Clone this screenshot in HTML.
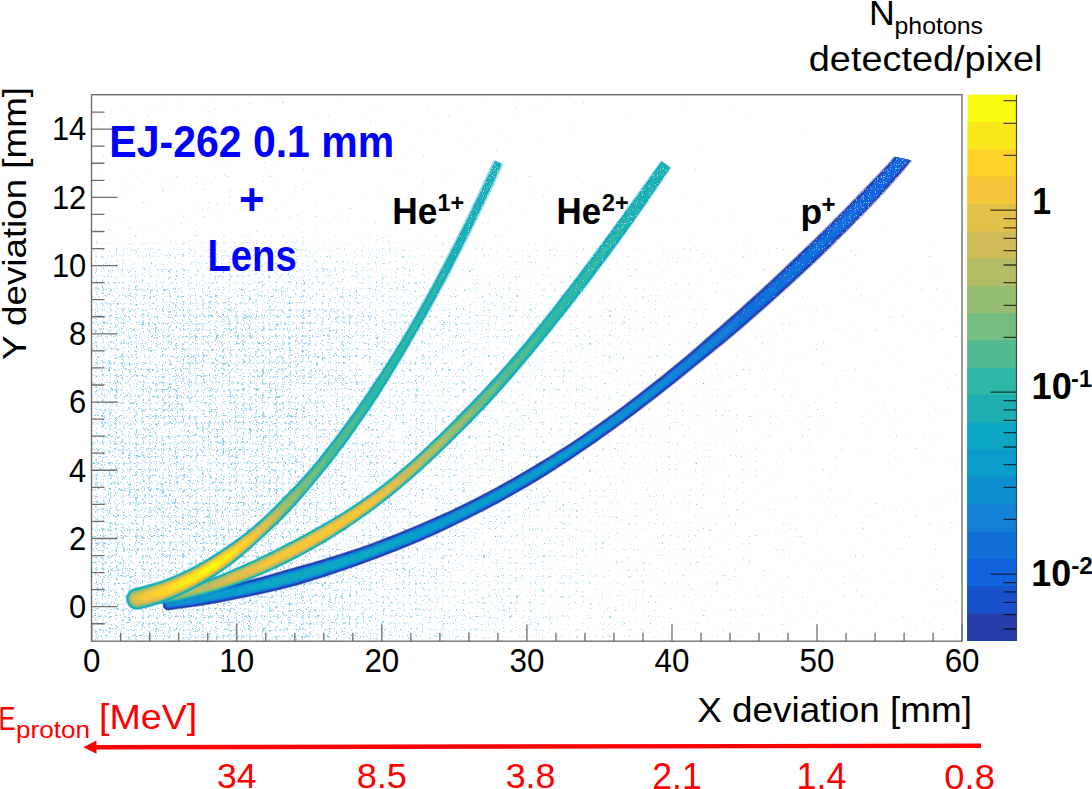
<!DOCTYPE html>
<html><head><meta charset="utf-8"><style>
html,body{margin:0;padding:0;background:#fff;overflow:hidden;}
svg{display:block;}
text{font-family:"Liberation Sans",sans-serif;}
</style></head><body>
<svg width="1092" height="789" viewBox="0 0 1092 789">
<defs>
<clipPath id="pcut"><path d="M0 -49 L1092 202 L1092 800 L0 800Z"/></clipPath>
<clipPath id="pc"><rect x="91.5" y="94.7" width="870.5" height="546.5"/></clipPath>
<linearGradient id="ng0" gradientUnits="userSpaceOnUse" x1="92" y1="0" x2="962" y2="0"><stop offset="0.0000" stop-opacity="0.104"/><stop offset="0.2161" stop-opacity="0.104"/><stop offset="0.2966" stop-opacity="0.099"/><stop offset="0.4115" stop-opacity="0.092"/><stop offset="0.5264" stop-opacity="0.084"/><stop offset="0.6414" stop-opacity="0.074"/><stop offset="0.7563" stop-opacity="0.058"/><stop offset="0.8713" stop-opacity="0.042"/><stop offset="1.0000" stop-opacity="0.032"/></linearGradient>
<linearGradient id="ng1" gradientUnits="userSpaceOnUse" x1="92" y1="0" x2="962" y2="0"><stop offset="0.0000" stop-opacity="0.112"/><stop offset="0.2161" stop-opacity="0.112"/><stop offset="0.2966" stop-opacity="0.107"/><stop offset="0.4115" stop-opacity="0.101"/><stop offset="0.5264" stop-opacity="0.094"/><stop offset="0.6414" stop-opacity="0.084"/><stop offset="0.7563" stop-opacity="0.069"/><stop offset="0.8713" stop-opacity="0.053"/><stop offset="1.0000" stop-opacity="0.043"/></linearGradient>
<linearGradient id="ng2" gradientUnits="userSpaceOnUse" x1="92" y1="0" x2="962" y2="0"><stop offset="0.0000" stop-opacity="0.135"/><stop offset="0.2161" stop-opacity="0.135"/><stop offset="0.2966" stop-opacity="0.127"/><stop offset="0.4115" stop-opacity="0.118"/><stop offset="0.5264" stop-opacity="0.109"/><stop offset="0.6414" stop-opacity="0.101"/><stop offset="0.7563" stop-opacity="0.086"/><stop offset="0.8713" stop-opacity="0.071"/><stop offset="1.0000" stop-opacity="0.062"/></linearGradient>
<linearGradient id="ng3" gradientUnits="userSpaceOnUse" x1="92" y1="0" x2="962" y2="0"><stop offset="0.0000" stop-opacity="0.158"/><stop offset="0.2161" stop-opacity="0.158"/><stop offset="0.2966" stop-opacity="0.149"/><stop offset="0.4115" stop-opacity="0.137"/><stop offset="0.5264" stop-opacity="0.126"/><stop offset="0.6414" stop-opacity="0.113"/><stop offset="0.7563" stop-opacity="0.101"/><stop offset="0.8713" stop-opacity="0.086"/><stop offset="1.0000" stop-opacity="0.077"/></linearGradient>
<linearGradient id="ng4" gradientUnits="userSpaceOnUse" x1="92" y1="0" x2="962" y2="0"><stop offset="0.0000" stop-opacity="0.177"/><stop offset="0.2161" stop-opacity="0.177"/><stop offset="0.2966" stop-opacity="0.163"/><stop offset="0.4115" stop-opacity="0.149"/><stop offset="0.5264" stop-opacity="0.136"/><stop offset="0.6414" stop-opacity="0.123"/><stop offset="0.7563" stop-opacity="0.107"/><stop offset="0.8713" stop-opacity="0.094"/><stop offset="1.0000" stop-opacity="0.085"/></linearGradient>
<linearGradient id="ng5" gradientUnits="userSpaceOnUse" x1="92" y1="0" x2="962" y2="0"><stop offset="0.0000" stop-opacity="0.192"/><stop offset="0.2161" stop-opacity="0.192"/><stop offset="0.2966" stop-opacity="0.178"/><stop offset="0.4115" stop-opacity="0.159"/><stop offset="0.5264" stop-opacity="0.145"/><stop offset="0.6414" stop-opacity="0.130"/><stop offset="0.7563" stop-opacity="0.111"/><stop offset="0.8713" stop-opacity="0.099"/><stop offset="1.0000" stop-opacity="0.090"/></linearGradient>
<linearGradient id="ng6" gradientUnits="userSpaceOnUse" x1="92" y1="0" x2="962" y2="0"><stop offset="0.0000" stop-opacity="0.204"/><stop offset="0.2161" stop-opacity="0.204"/><stop offset="0.2966" stop-opacity="0.189"/><stop offset="0.4115" stop-opacity="0.170"/><stop offset="0.5264" stop-opacity="0.153"/><stop offset="0.6414" stop-opacity="0.137"/><stop offset="0.7563" stop-opacity="0.117"/><stop offset="0.8713" stop-opacity="0.103"/><stop offset="1.0000" stop-opacity="0.095"/></linearGradient>
<linearGradient id="ng7" gradientUnits="userSpaceOnUse" x1="92" y1="0" x2="962" y2="0"><stop offset="0.0000" stop-opacity="0.221"/><stop offset="0.2161" stop-opacity="0.221"/><stop offset="0.2966" stop-opacity="0.202"/><stop offset="0.4115" stop-opacity="0.182"/><stop offset="0.5264" stop-opacity="0.162"/><stop offset="0.6414" stop-opacity="0.144"/><stop offset="0.7563" stop-opacity="0.123"/><stop offset="0.8713" stop-opacity="0.107"/><stop offset="1.0000" stop-opacity="0.100"/></linearGradient>
<filter id="nz1" x="92" y="95" width="870" height="546" filterUnits="userSpaceOnUse" color-interpolation-filters="sRGB"><feTurbulence type="fractalNoise" baseFrequency="0.85" numOctaves="1" seed="4" result="t"/><feColorMatrix in="t" type="matrix" values="0 0 0 0 0  0 0 0 0 0  0 0 0 0 0  1 0 0 0 0" result="ta"/><feComposite in="SourceAlpha" in2="ta" operator="arithmetic" k1="0" k2="1" k3="1" k4="-0.000"/><feComponentTransfer><feFuncA type="linear" slope="12" intercept="-10.080"/></feComponentTransfer><feColorMatrix type="matrix" values="0 0 0 0 0.180  0 0 0 0 0.700  0 0 0 0 0.840  0 0 0 0.600 0"/><feGaussianBlur stdDeviation="0.3"/></filter>
<filter id="nz2" x="92" y="95" width="870" height="546" filterUnits="userSpaceOnUse" color-interpolation-filters="sRGB"><feTurbulence type="fractalNoise" baseFrequency="0.85" numOctaves="1" seed="11" result="t"/><feColorMatrix in="t" type="matrix" values="0 0 0 0 0  0 0 0 0 0  0 0 0 0 0  1 0 0 0 0" result="ta"/><feComposite in="SourceAlpha" in2="ta" operator="arithmetic" k1="0" k2="1" k3="1" k4="-0.030"/><feComponentTransfer><feFuncA type="linear" slope="12" intercept="-10.080"/></feComponentTransfer><feColorMatrix type="matrix" values="0 0 0 0 0.420  0 0 0 0 0.420  0 0 0 0 0.820  0 0 0 0.450 0"/><feGaussianBlur stdDeviation="0.3"/></filter>
<filter id="nz3" x="92" y="95" width="870" height="546" filterUnits="userSpaceOnUse" color-interpolation-filters="sRGB"><feTurbulence type="fractalNoise" baseFrequency="0.85" numOctaves="1" seed="23" result="t"/><feColorMatrix in="t" type="matrix" values="0 0 0 0 0  0 0 0 0 0  0 0 0 0 0  1 0 0 0 0" result="ta"/><feComposite in="SourceAlpha" in2="ta" operator="arithmetic" k1="0" k2="1" k3="1" k4="-0.070"/><feComponentTransfer><feFuncA type="linear" slope="12" intercept="-10.080"/></feComponentTransfer><feConvolveMatrix order="2" kernelMatrix="1 1 1 1" divisor="1" edgeMode="none"/><feColorMatrix type="matrix" values="0 0 0 0 0.200  0 0 0 0 0.700  0 0 0 0 0.840  0 0 0 0.450 0"/><feGaussianBlur stdDeviation="0.3"/></filter>
<clipPath id="bclip"><path d="M168.9,610.4 178.9,609.1 188.9,607.8 198.9,606.4 208.8,604.7 218.8,602.9 228.7,601.0 238.6,599.1 248.5,597.0 258.3,594.9 268.2,592.7 278.0,590.5 287.9,588.1 297.6,585.4 307.3,582.6 317.0,579.6 326.6,576.5 336.2,573.3 345.8,570.1 355.3,566.7 364.9,563.3 374.3,559.8 383.8,556.2 393.3,552.6 402.7,548.9 412.0,545.1 421.3,541.2 430.6,537.1 439.8,532.9 448.9,528.6 458.0,524.1 467.1,519.7 476.1,515.1 485.1,510.5 494.1,505.8 503.0,501.0 511.8,496.1 520.6,491.1 529.3,486.0 538.0,480.8 546.6,475.6 555.2,470.1 563.6,464.6 572.1,459.1 580.4,453.4 588.7,447.7 597.0,442.0 605.3,436.1 613.5,430.3 621.6,424.3 629.7,418.3 637.8,412.3 645.8,406.2 653.8,400.1 661.8,393.9 669.7,387.6 677.5,381.4 685.4,375.0 693.2,368.7 701.0,362.4 708.9,356.1 716.7,349.8 724.5,343.4 732.2,337.0 739.9,330.4 747.5,323.9 755.1,317.3 762.7,310.7 770.3,304.0 777.8,297.3 785.2,290.5 792.7,283.8 800.1,277.0 807.5,270.1 814.8,263.1 822.0,256.2 829.3,249.2 836.5,242.1 843.6,235.0 850.7,227.9 857.8,220.7 864.9,213.6 871.9,206.3 878.8,199.0 885.7,191.6 892.5,184.1 899.2,176.4 905.8,168.7 912.2,160.8 918.6,152.9 905.4,142.3 899.2,150.1 892.8,157.5 886.2,164.9 879.5,172.1 872.6,179.3 865.7,186.5 858.7,193.6 851.8,200.8 844.8,207.9 837.8,215.0 830.8,222.1 823.7,229.2 816.6,236.2 809.4,243.1 802.2,250.0 795.0,256.9 787.8,263.8 780.5,270.7 773.3,277.5 766.0,284.3 758.6,291.1 751.2,297.8 743.8,304.5 736.4,311.2 728.9,317.8 721.4,324.4 713.9,331.0 706.4,337.6 698.9,344.2 691.4,350.8 683.8,357.3 676.1,363.7 668.4,370.0 660.6,376.2 652.8,382.5 644.9,388.6 637.1,394.8 629.1,400.8 621.2,406.9 613.2,412.8 605.1,418.7 597.0,424.5 588.9,430.2 580.6,435.8 572.4,441.4 564.0,446.8 555.6,452.1 547.1,457.4 538.6,462.5 530.1,467.7 521.5,472.7 512.9,477.7 504.3,482.6 495.5,487.3 486.8,492.0 477.9,496.6 469.1,501.1 460.2,505.5 451.2,509.8 442.1,513.9 433.1,518.0 423.9,521.9 414.8,525.8 405.6,529.6 396.4,533.4 387.2,537.1 377.9,540.6 368.6,544.1 359.2,547.4 349.8,550.6 340.3,553.6 330.8,556.6 321.3,559.5 311.8,562.3 302.2,565.0 292.6,567.6 283.1,570.3 273.5,573.1 263.9,575.9 254.3,578.5 244.7,581.1 235.1,583.5 225.4,586.0 215.7,588.3 206.0,590.6 196.3,592.8 186.5,595.2 176.8,597.5 167.1,599.7 165.7,600.2 164.5,600.9 163.6,602.0 162.9,603.2 162.6,604.6 162.7,606.0 163.1,607.3 163.9,608.5 164.9,609.5 166.2,610.1 167.5,610.4Z"/><path d="M155.9,604.8 163.6,603.8 171.4,602.6 179.2,601.2 187.0,599.5 194.7,597.7 202.3,595.8 209.9,593.7 217.5,591.5 225.0,589.2 232.5,586.7 240.0,584.1 247.3,581.2 254.6,578.2 261.8,575.1 269.0,571.9 276.1,568.6 283.2,565.3 290.2,561.8 297.2,558.3 304.1,554.6 311.0,550.8 317.8,546.9 324.6,543.0 331.3,538.9 338.0,534.7 344.6,530.5 351.1,526.1 357.6,521.7 364.0,517.2 370.4,512.6 376.7,507.9 383.0,503.1 389.2,498.3 395.3,493.4 401.3,488.3 407.3,483.2 413.2,478.1 419.1,472.9 424.9,467.7 430.6,462.4 436.3,457.0 442.0,451.7 447.6,446.2 453.1,440.8 458.7,435.3 464.2,429.8 469.7,424.3 475.1,418.8 480.6,413.1 485.9,407.5 491.2,401.8 496.5,396.0 501.7,390.2 506.9,384.4 512.0,378.5 517.1,372.6 522.1,366.7 527.1,360.7 532.1,354.7 537.1,348.7 542.0,342.7 547.0,336.7 551.9,330.7 556.7,324.6 561.6,318.5 566.4,312.4 571.2,306.3 576.0,300.2 580.7,294.1 585.5,287.9 590.2,281.7 594.9,275.5 599.6,269.3 604.2,263.1 608.9,256.9 613.5,250.7 618.1,244.4 622.7,238.1 627.2,231.9 631.7,225.5 636.2,219.2 640.6,212.8 645.1,206.5 649.5,200.1 653.9,193.7 658.3,187.3 662.7,180.9 667.0,174.5 671.4,168.0 660.6,160.6 656.2,167.0 651.7,173.3 647.2,179.6 642.7,185.9 638.2,192.1 633.7,198.4 629.2,204.7 624.7,210.9 620.1,217.2 615.5,223.4 611.0,229.7 606.5,235.9 601.9,242.2 597.3,248.4 592.7,254.6 588.1,260.8 583.5,267.0 578.9,273.2 574.2,279.3 569.5,285.5 564.8,291.6 560.1,297.7 555.4,303.8 550.6,309.9 545.8,315.9 541.0,322.0 536.2,328.0 531.4,334.0 526.5,340.0 521.5,345.9 516.6,351.8 511.5,357.6 506.5,363.4 501.4,369.2 496.3,374.9 491.1,380.6 485.9,386.3 480.7,391.9 475.4,397.5 470.0,403.0 464.7,408.6 459.3,414.0 453.9,419.5 448.4,424.9 442.9,430.3 437.4,435.7 431.8,441.1 426.2,446.4 420.6,451.6 415.0,456.8 409.3,461.9 403.5,467.0 397.7,472.0 391.8,476.9 385.9,481.6 379.8,486.3 373.7,490.8 367.5,495.3 361.3,499.7 355.0,504.0 348.6,508.2 342.1,512.3 335.6,516.2 329.1,520.1 322.4,524.0 315.8,527.7 309.1,531.4 302.4,535.1 295.7,538.7 288.9,542.2 282.1,545.7 275.3,549.3 268.4,552.7 261.6,556.1 254.7,559.4 247.7,562.5 240.8,565.6 233.8,568.7 226.8,571.7 219.8,574.6 212.7,577.4 205.6,580.1 198.4,582.6 191.1,584.8 183.8,586.9 176.5,588.8 169.1,590.6 161.7,592.1 154.1,593.4 152.7,593.8 151.4,594.6 150.4,595.7 149.7,597.0 149.3,598.5 149.3,599.9 149.8,601.4 150.5,602.7 151.6,603.7 152.9,604.4 154.4,604.8Z"/><path d="M139.6,609.8 146.2,608.3 152.8,606.4 159.4,604.3 165.9,601.9 172.3,599.4 178.6,596.7 184.8,593.8 191.0,590.7 197.0,587.5 202.9,584.2 208.7,580.7 214.5,577.1 220.1,573.3 225.7,569.5 231.1,565.5 236.4,561.3 241.7,557.0 246.8,552.7 251.9,548.3 256.8,543.9 261.8,539.3 266.6,534.8 271.5,530.2 276.4,525.6 281.1,520.9 285.8,516.2 290.4,511.5 295.0,506.6 299.4,501.7 303.8,496.6 308.0,491.6 312.3,486.5 316.5,481.3 320.7,476.3 324.9,471.1 329.1,466.0 333.2,460.8 337.3,455.6 341.2,450.3 345.2,445.0 349.1,439.7 353.0,434.3 356.8,428.9 360.6,423.5 364.4,418.1 368.1,412.7 371.8,407.2 375.5,401.7 379.1,396.2 382.6,390.7 386.2,385.1 389.6,379.5 393.1,373.9 396.5,368.2 399.9,362.6 403.3,356.9 406.7,351.3 410.0,345.6 413.3,339.9 416.6,334.2 419.9,328.5 423.2,322.8 426.5,317.1 429.7,311.4 432.9,305.6 436.1,299.8 439.2,294.1 442.4,288.3 445.5,282.5 448.6,276.7 451.6,270.8 454.6,265.0 457.6,259.2 460.6,253.3 463.6,247.4 466.5,241.5 469.5,235.7 472.4,229.8 475.3,223.9 478.2,218.0 481.1,212.1 484.0,206.2 486.8,200.2 489.7,194.3 492.5,188.4 495.3,182.4 498.0,176.4 500.7,170.4 503.4,164.4 493.6,160.0 490.8,165.9 488.0,171.8 485.2,177.7 482.4,183.6 479.6,189.6 476.9,195.5 474.0,201.4 471.2,207.3 468.4,213.2 465.5,219.1 462.6,224.9 459.7,230.8 456.8,236.6 453.8,242.5 450.8,248.3 447.8,254.1 444.8,259.9 441.8,265.7 438.7,271.5 435.6,277.2 432.6,283.0 429.5,288.8 426.3,294.5 423.2,300.2 420.0,306.0 416.8,311.7 413.6,317.3 410.4,323.0 407.1,328.7 403.8,334.3 400.4,339.9 397.1,345.5 393.7,351.1 390.2,356.6 386.7,362.1 383.2,367.6 379.6,373.1 376.0,378.6 372.4,384.0 368.8,389.4 365.2,394.8 361.5,400.2 357.8,405.6 354.1,411.0 350.3,416.3 346.5,421.6 342.7,426.8 338.8,432.0 334.8,437.2 330.9,442.4 326.9,447.5 322.8,452.6 318.8,457.7 314.7,462.7 310.5,467.7 306.3,472.7 302.0,477.5 297.6,482.3 293.1,487.0 288.6,491.6 284.0,496.2 279.5,500.9 275.0,505.5 270.4,510.0 265.7,514.5 261.0,518.9 256.2,523.2 251.3,527.3 246.3,531.4 241.2,535.3 236.0,539.2 230.8,542.9 225.6,546.5 220.2,550.0 214.9,553.5 209.5,556.9 204.1,560.2 198.6,563.3 193.0,566.3 187.4,569.2 181.7,571.9 176.0,574.5 170.2,576.9 164.4,579.1 158.5,581.2 152.6,583.0 146.6,584.7 140.6,586.4 134.4,587.8 131.6,588.9 129.3,590.6 127.4,592.9 126.2,595.6 125.7,598.5 126.0,601.4 127.0,604.2 128.8,606.6 131.1,608.4 133.7,609.6 136.7,610.1Z"/></clipPath><linearGradient id="sg" gradientUnits="userSpaceOnUse" x1="0" y1="150" x2="0" y2="420"><stop offset="0" stop-opacity="0.271"/><stop offset="0.2" stop-opacity="0.232"/><stop offset="0.55" stop-opacity="0.162"/><stop offset="1" stop-opacity="0"/></linearGradient><filter id="spk" x="92" y="95" width="870" height="546" filterUnits="userSpaceOnUse" color-interpolation-filters="sRGB"><feTurbulence type="fractalNoise" baseFrequency="0.85" numOctaves="1" seed="31" result="t"/><feColorMatrix in="t" type="matrix" values="0 0 0 0 0  0 0 0 0 0  0 0 0 0 0  1 0 0 0 0" result="ta"/><feComposite in="SourceAlpha" in2="ta" operator="arithmetic" k1="0" k2="1" k3="1" k4="0"/><feComponentTransfer><feFuncA type="linear" slope="12" intercept="-10.080"/></feComponentTransfer><feColorMatrix type="matrix" values="0 0 0 0 1  0 0 0 0 1  0 0 0 0 1  0 0 0 0.55 0"/></filter>
</defs>
<g clip-path="url(#pc)">
<g filter="url(#nz1)"><rect x="92" y="95" width="870" height="120" fill="url(#ng0)"/><rect x="92" y="215" width="870" height="17" fill="url(#ng1)"/><rect x="92" y="232" width="870" height="8" fill="url(#ng2)"/><rect x="92" y="240" width="870" height="8" fill="url(#ng3)"/><rect x="92" y="248" width="870" height="17" fill="url(#ng4)"/><rect x="92" y="265" width="870" height="20" fill="url(#ng5)"/><rect x="92" y="285" width="870" height="25" fill="url(#ng6)"/><rect x="92" y="310" width="870" height="331" fill="url(#ng7)"/></g>
<g filter="url(#nz2)"><rect x="92" y="95" width="870" height="120" fill="url(#ng0)"/><rect x="92" y="215" width="870" height="17" fill="url(#ng1)"/><rect x="92" y="232" width="870" height="8" fill="url(#ng2)"/><rect x="92" y="240" width="870" height="8" fill="url(#ng3)"/><rect x="92" y="248" width="870" height="17" fill="url(#ng4)"/><rect x="92" y="265" width="870" height="20" fill="url(#ng5)"/><rect x="92" y="285" width="870" height="25" fill="url(#ng6)"/><rect x="92" y="310" width="870" height="331" fill="url(#ng7)"/></g>
<g filter="url(#nz3)"><rect x="92" y="95" width="870" height="120" fill="url(#ng0)"/><rect x="92" y="215" width="870" height="17" fill="url(#ng1)"/><rect x="92" y="232" width="870" height="8" fill="url(#ng2)"/><rect x="92" y="240" width="870" height="8" fill="url(#ng3)"/><rect x="92" y="248" width="870" height="17" fill="url(#ng4)"/><rect x="92" y="265" width="870" height="20" fill="url(#ng5)"/><rect x="92" y="285" width="870" height="25" fill="url(#ng6)"/><rect x="92" y="310" width="870" height="331" fill="url(#ng7)"/></g>
</g>
<g clip-path="url(#pc)">
<g clip-path="url(#pcut)">
<g><path d="M168.9,610.4 178.9,609.1 188.9,607.8 198.9,606.4 208.8,604.7 218.8,602.9 228.7,601.0 238.6,599.1 248.5,597.0 258.3,594.9 268.2,592.7 278.0,590.5 287.9,588.1 297.6,585.4 307.3,582.6 317.0,579.6 326.6,576.5 336.2,573.3 345.8,570.1 355.3,566.7 364.9,563.3 374.3,559.8 383.8,556.2 393.3,552.6 402.7,548.9 412.0,545.1 421.3,541.2 430.6,537.1 439.8,532.9 448.9,528.6 458.0,524.1 467.1,519.7 476.1,515.1 485.1,510.5 494.1,505.8 503.0,501.0 511.8,496.1 520.6,491.1 529.3,486.0 538.0,480.8 546.6,475.6 555.2,470.1 563.6,464.6 572.1,459.1 580.4,453.4 588.7,447.7 597.0,442.0 605.3,436.1 613.5,430.3 621.6,424.3 629.7,418.3 637.8,412.3 645.8,406.2 653.8,400.1 661.8,393.9 669.7,387.6 677.5,381.4 685.4,375.0 693.2,368.7 701.0,362.4 708.9,356.1 716.7,349.8 724.5,343.4 732.2,337.0 739.9,330.4 747.5,323.9 755.1,317.3 762.7,310.7 770.3,304.0 777.8,297.3 785.2,290.5 792.7,283.8 800.1,277.0 807.5,270.1 814.8,263.1 822.0,256.2 829.3,249.2 836.5,242.1 843.6,235.0 850.7,227.9 857.8,220.7 864.9,213.6 871.9,206.3 878.8,199.0 885.7,191.6 892.5,184.1 899.2,176.4 905.8,168.7 912.2,160.8 918.6,152.9 905.4,142.3 899.2,150.1 892.8,157.5 886.2,164.9 879.5,172.1 872.6,179.3 865.7,186.5 858.7,193.6 851.8,200.8 844.8,207.9 837.8,215.0 830.8,222.1 823.7,229.2 816.6,236.2 809.4,243.1 802.2,250.0 795.0,256.9 787.8,263.8 780.5,270.7 773.3,277.5 766.0,284.3 758.6,291.1 751.2,297.8 743.8,304.5 736.4,311.2 728.9,317.8 721.4,324.4 713.9,331.0 706.4,337.6 698.9,344.2 691.4,350.8 683.8,357.3 676.1,363.7 668.4,370.0 660.6,376.2 652.8,382.5 644.9,388.6 637.1,394.8 629.1,400.8 621.2,406.9 613.2,412.8 605.1,418.7 597.0,424.5 588.9,430.2 580.6,435.8 572.4,441.4 564.0,446.8 555.6,452.1 547.1,457.4 538.6,462.5 530.1,467.7 521.5,472.7 512.9,477.7 504.3,482.6 495.5,487.3 486.8,492.0 477.9,496.6 469.1,501.1 460.2,505.5 451.2,509.8 442.1,513.9 433.1,518.0 423.9,521.9 414.8,525.8 405.6,529.6 396.4,533.4 387.2,537.1 377.9,540.6 368.6,544.1 359.2,547.4 349.8,550.6 340.3,553.6 330.8,556.6 321.3,559.5 311.8,562.3 302.2,565.0 292.6,567.6 283.1,570.3 273.5,573.1 263.9,575.9 254.3,578.5 244.7,581.1 235.1,583.5 225.4,586.0 215.7,588.3 206.0,590.6 196.3,592.8 186.5,595.2 176.8,597.5 167.1,599.7 165.7,600.2 164.5,600.9 163.6,602.0 162.9,603.2 162.6,604.6 162.7,606.0 163.1,607.3 163.9,608.5 164.9,609.5 166.2,610.1 167.5,610.4Z" fill="#273da8" opacity="0.4"/>
<path d="M168.9,609.9 178.8,608.6 188.8,607.3 198.8,605.8 208.7,604.2 218.7,602.4 228.6,600.5 238.5,598.5 248.3,596.5 258.2,594.4 268.1,592.2 277.9,589.9 287.7,587.5 297.5,584.9 307.2,582.0 316.8,579.0 326.5,576.0 336.0,572.8 345.6,569.5 355.2,566.2 364.7,562.7 374.1,559.2 383.6,555.7 393.0,552.1 402.4,548.3 411.8,544.5 421.1,540.6 430.3,536.5 439.5,532.3 448.7,528.0 457.8,523.6 466.8,519.1 475.9,514.6 484.8,509.9 493.8,505.2 502.6,500.4 511.5,495.5 520.3,490.5 529.0,485.4 537.7,480.3 546.3,475.0 554.8,469.6 563.3,464.1 571.7,458.5 580.0,452.8 588.4,447.1 596.6,441.4 604.9,435.6 613.1,429.7 621.2,423.7 629.3,417.7 637.4,411.7 645.4,405.6 653.3,399.4 661.3,393.2 669.2,387.0 677.0,380.7 684.8,374.4 692.6,368.0 700.5,361.7 708.3,355.4 716.1,349.1 723.9,342.7 731.6,336.2 739.3,329.7 746.9,323.2 754.5,316.6 762.0,309.9 769.6,303.2 777.1,296.5 784.5,289.8 792.0,283.0 799.4,276.2 806.7,269.3 814.0,262.4 821.3,255.4 828.5,248.4 835.7,241.3 842.8,234.2 850.0,227.1 857.0,220.0 864.1,212.8 871.1,205.5 878.0,198.2 884.8,190.8 891.6,183.3 898.3,175.6 904.9,167.9 911.3,160.0 917.7,152.1 906.3,143.1 900.1,150.8 893.7,158.3 887.1,165.7 880.3,172.9 873.5,180.1 866.5,187.3 859.6,194.4 852.6,201.6 845.6,208.7 838.6,215.8 831.5,222.9 824.5,229.9 817.3,236.9 810.2,243.9 803.0,250.8 795.7,257.7 788.5,264.6 781.3,271.5 774.0,278.3 766.7,285.1 759.3,291.9 751.9,298.6 744.5,305.3 737.1,311.9 729.6,318.6 722.1,325.2 714.5,331.7 707.0,338.3 699.5,344.9 692.0,351.5 684.4,358.0 676.6,364.3 668.9,370.6 661.1,376.9 653.3,383.1 645.4,389.3 637.5,395.4 629.6,401.5 621.6,407.5 613.6,413.4 605.5,419.3 597.4,425.1 589.3,430.8 581.0,436.4 572.8,442.0 564.4,447.4 556.0,452.7 547.5,457.9 539.0,463.1 530.5,468.2 521.9,473.3 513.3,478.3 504.6,483.1 495.9,487.9 487.1,492.6 478.2,497.2 469.4,501.7 460.4,506.1 451.5,510.4 442.4,514.5 433.3,518.5 424.2,522.5 415.0,526.4 405.9,530.2 396.6,534.0 387.4,537.6 378.1,541.2 368.8,544.7 359.4,547.9 350.0,551.1 340.5,554.2 331.0,557.2 321.5,560.1 312.0,562.9 302.4,565.6 292.8,568.2 283.2,570.9 273.7,573.7 264.1,576.4 254.5,579.0 244.8,581.6 235.2,584.1 225.5,586.5 215.8,588.8 206.1,591.1 196.4,593.3 186.6,595.7 176.9,598.0 167.1,600.2 165.9,600.6 164.8,601.3 164.0,602.3 163.4,603.4 163.1,604.6 163.2,605.9 163.6,607.1 164.3,608.2 165.2,609.1 166.3,609.7 167.6,609.9Z" fill="#273da8"/>
<path d="M168.6,608.2 178.5,606.9 188.5,605.6 198.5,604.2 208.4,602.5 218.3,600.7 228.2,598.8 238.1,596.9 248.0,594.9 257.8,592.7 267.7,590.6 277.5,588.3 287.3,585.9 297.0,583.3 306.7,580.4 316.3,577.4 325.9,574.3 335.5,571.2 345.1,567.9 354.6,564.6 364.1,561.1 373.5,557.6 383.0,554.1 392.4,550.5 401.8,546.8 411.1,543.0 420.4,539.0 429.7,535.0 438.8,530.7 448.0,526.4 457.0,522.0 466.1,517.6 475.1,513.0 484.1,508.4 493.0,503.7 501.8,498.9 510.7,494.0 519.4,489.0 528.1,484.0 536.8,478.8 545.4,473.5 553.9,468.1 562.3,462.6 570.7,457.1 579.1,451.4 587.4,445.7 595.7,440.0 603.9,434.2 612.1,428.3 620.2,422.4 628.3,416.4 636.3,410.3 644.3,404.2 652.3,398.1 660.2,391.9 668.1,385.7 675.9,379.4 683.8,373.1 691.5,366.7 699.4,360.4 707.2,354.1 715.0,347.8 722.8,341.4 730.5,335.0 738.1,328.4 745.8,321.9 753.4,315.3 760.9,308.6 768.4,302.0 775.9,295.3 783.4,288.5 790.8,281.8 798.2,274.9 805.6,268.1 812.9,261.1 820.1,254.2 827.3,247.2 834.5,240.1 841.6,233.0 848.8,225.9 855.8,218.8 862.9,211.6 869.9,204.3 876.8,197.1 883.6,189.6 890.4,182.1 897.0,174.5 903.6,166.8 910.0,158.9 916.3,151.1 907.7,144.1 901.4,151.9 895.0,159.4 888.3,166.8 881.6,174.1 874.7,181.3 867.7,188.4 860.8,195.6 853.8,202.8 846.8,209.9 839.8,217.0 832.7,224.1 825.7,231.1 818.5,238.1 811.4,245.1 804.1,252.0 796.9,258.9 789.7,265.8 782.4,272.7 775.1,279.5 767.8,286.4 760.4,293.1 753.1,299.9 745.6,306.6 738.2,313.2 730.7,319.9 723.2,326.4 715.6,333.0 708.1,339.6 700.6,346.2 693.0,352.8 685.4,359.3 677.7,365.6 669.9,372.0 662.2,378.2 654.3,384.4 646.5,390.6 638.6,396.7 630.6,402.8 622.6,408.8 614.6,414.8 606.5,420.6 598.4,426.4 590.2,432.2 582.0,437.8 573.7,443.4 565.3,448.8 556.9,454.1 548.4,459.4 539.9,464.6 531.3,469.7 522.7,474.8 514.1,479.7 505.4,484.6 496.7,489.4 487.9,494.1 479.0,498.7 470.1,503.2 461.2,507.6 452.2,511.9 443.1,516.0 434.0,520.1 424.9,524.0 415.7,527.9 406.5,531.8 397.3,535.5 388.0,539.2 378.7,542.8 369.4,546.3 360.0,549.5 350.5,552.7 341.0,555.8 331.5,558.8 322.0,561.7 312.4,564.5 302.9,567.2 293.2,569.8 283.7,572.5 274.1,575.3 264.5,578.0 254.9,580.7 245.2,583.2 235.6,585.7 225.9,588.1 216.2,590.5 206.4,592.7 196.7,595.0 187.0,597.4 177.2,599.7 167.4,601.9 166.6,602.2 165.9,602.6 165.4,603.2 165.0,604.0 164.8,604.8 164.9,605.6 165.1,606.4 165.6,607.1 166.2,607.7 166.9,608.1 167.7,608.2Z" fill="#1751cb"/>
<path d="M168.5,607.9 178.5,606.7 188.5,605.4 198.4,604.0 208.4,602.3 218.3,600.5 228.2,598.7 238.0,596.7 247.9,594.7 257.8,592.6 267.6,590.4 277.4,588.1 287.2,585.7 297.0,583.1 306.6,580.2 316.3,577.2 325.9,574.2 335.5,571.0 345.0,567.7 354.5,564.4 364.0,561.0 373.5,557.5 382.9,553.9 392.3,550.3 401.7,546.6 411.1,542.8 420.4,538.9 429.6,534.8 438.8,530.6 447.9,526.3 457.0,521.9 466.0,517.4 475.0,512.9 484.0,508.3 492.9,503.5 501.7,498.7 510.6,493.9 519.3,488.9 528.0,483.8 536.7,478.6 545.3,473.4 553.8,468.0 562.3,462.5 570.6,456.9 579.0,451.3 587.3,445.6 595.6,439.8 603.8,434.0 612.0,428.2 620.1,422.2 628.2,416.2 636.2,410.2 644.2,404.1 652.2,397.9 660.1,391.7 668.0,385.5 675.8,379.2 683.6,372.9 691.4,366.5 699.2,360.2 707.0,353.9 714.8,347.5 722.6,341.2 730.3,334.7 737.9,328.1 745.5,321.6 753.1,314.9 760.6,308.3 768.1,301.6 775.6,294.9 783.0,288.1 790.4,281.3 797.8,274.5 805.1,267.6 812.4,260.7 819.6,253.7 826.8,246.6 834.0,239.6 841.1,232.5 848.2,225.4 855.3,218.2 862.3,211.0 869.3,203.8 876.2,196.5 883.0,189.1 889.8,181.6 896.5,174.0 903.0,166.3 909.4,158.5 915.7,150.6 908.3,144.6 902.0,152.4 895.5,159.9 888.9,167.3 882.2,174.6 875.3,181.8 868.3,189.0 861.4,196.2 854.4,203.3 847.4,210.5 840.4,217.6 833.3,224.6 826.2,231.7 819.0,238.7 811.8,245.6 804.6,252.5 797.4,259.4 790.1,266.3 782.8,273.1 775.5,280.0 768.2,286.7 760.8,293.5 753.4,300.2 745.9,306.9 738.5,313.5 730.9,320.2 723.4,326.7 715.9,333.3 708.3,339.9 700.8,346.5 693.2,353.0 685.6,359.5 677.9,365.8 670.1,372.1 662.3,378.4 654.5,384.6 646.6,390.8 638.7,396.9 630.7,403.0 622.8,409.0 614.7,414.9 606.6,420.8 598.5,426.6 590.3,432.3 582.1,438.0 573.8,443.5 565.4,448.9 557.0,454.3 548.5,459.5 540.0,464.7 531.4,469.8 522.8,474.9 514.2,479.9 505.5,484.8 496.8,489.6 488.0,494.3 479.1,498.9 470.2,503.4 461.3,507.8 452.3,512.1 443.2,516.2 434.1,520.3 425.0,524.2 415.8,528.1 406.6,532.0 397.4,535.7 388.1,539.4 378.8,542.9 369.4,546.4 360.0,549.7 350.6,552.9 341.1,556.0 331.6,559.0 322.1,561.9 312.5,564.7 302.9,567.4 293.3,570.0 283.7,572.7 274.1,575.5 264.5,578.2 254.9,580.9 245.3,583.4 235.6,585.9 225.9,588.3 216.2,590.7 206.5,592.9 196.7,595.2 187.0,597.6 177.3,599.9 167.5,602.2 166.8,602.4 166.1,602.8 165.6,603.4 165.3,604.1 165.1,604.8 165.1,605.6 165.4,606.3 165.8,606.9 166.3,607.4 167.0,607.8 167.8,608.0Z" fill="#1063dc"/>
<path d="M168.5,607.6 178.4,606.3 188.4,605.0 198.4,603.6 208.3,601.9 218.2,600.1 228.1,598.3 238.0,596.3 247.8,594.3 257.7,592.2 267.5,590.0 277.3,587.7 287.1,585.3 296.9,582.7 306.5,579.8 316.2,576.8 325.8,573.8 335.4,570.6 344.9,567.4 354.4,564.0 363.9,560.6 373.3,557.1 382.8,553.6 392.2,549.9 401.6,546.2 410.9,542.4 420.2,538.5 429.4,534.4 438.6,530.2 447.7,525.9 456.8,521.5 465.8,517.0 474.8,512.5 483.8,507.9 492.7,503.2 501.5,498.4 510.4,493.5 519.1,488.5 527.8,483.4 536.5,478.3 545.1,473.0 553.6,467.6 562.0,462.1 570.4,456.6 578.8,450.9 587.1,445.3 595.3,439.5 603.6,433.7 611.7,427.8 619.8,421.9 627.9,415.9 635.9,409.8 643.9,403.7 651.8,397.5 659.7,391.3 667.6,385.1 675.4,378.7 683.2,372.4 691.0,366.0 698.8,359.7 706.5,353.3 714.3,346.9 722.0,340.5 729.6,333.9 737.2,327.3 744.7,320.7 752.2,314.0 759.7,307.3 767.1,300.5 774.5,293.7 781.9,286.9 789.2,280.0 796.4,273.0 803.6,266.0 810.7,258.9 817.7,251.6 824.6,244.4 831.7,237.3 838.7,230.1 845.7,222.9 852.5,215.5 859.3,208.1 865.3,200.0 872.3,192.7 879.2,185.5 886.0,178.1 892.7,170.7 899.3,163.1 905.7,155.4 912.0,147.6 912.0,147.6 905.7,155.4 899.3,163.1 892.7,170.7 886.0,178.1 879.2,185.5 872.3,192.7 865.3,200.0 857.4,206.2 850.1,213.1 842.9,220.1 835.7,227.1 828.5,234.0 821.2,240.9 813.8,247.6 806.3,254.3 798.9,261.0 791.5,267.8 784.1,274.5 776.6,281.2 769.2,287.9 761.8,294.6 754.3,301.2 746.7,307.8 739.2,314.4 731.6,320.9 724.1,327.5 716.5,334.0 708.9,340.5 701.3,347.0 693.7,353.5 686.0,360.0 678.3,366.3 670.5,372.6 662.6,378.8 654.8,385.0 646.9,391.2 639.0,397.3 631.0,403.3 623.0,409.3 615.0,415.3 606.9,421.1 598.7,426.9 590.6,432.6 582.3,438.3 574.0,443.8 565.6,449.3 557.2,454.6 548.7,459.9 540.2,465.1 531.6,470.2 523.0,475.3 514.4,480.3 505.7,485.1 497.0,489.9 488.2,494.6 479.3,499.3 470.4,503.8 461.5,508.2 452.5,512.5 443.4,516.6 434.3,520.7 425.1,524.6 415.9,528.5 406.7,532.3 397.5,536.1 388.2,539.8 378.9,543.3 369.6,546.8 360.2,550.1 350.7,553.3 341.2,556.3 331.7,559.3 322.2,562.2 312.6,565.1 303.0,567.8 293.4,570.4 283.8,573.1 274.2,575.9 264.6,578.6 255.0,581.2 245.4,583.8 235.7,586.3 226.0,588.7 216.3,591.1 206.5,593.3 196.8,595.6 187.1,598.0 177.3,600.3 167.5,602.5 166.9,602.7 166.3,603.1 165.9,603.6 165.6,604.2 165.4,604.8 165.5,605.5 165.7,606.1 166.0,606.7 166.5,607.2 167.1,607.5 167.8,607.6Z" fill="#1271d9"/>
<path d="M168.4,607.1 178.3,605.8 188.3,604.5 198.3,603.1 208.2,601.4 218.1,599.6 228.0,597.8 237.9,595.9 247.7,593.8 257.6,591.7 267.4,589.5 277.2,587.2 287.0,584.8 296.7,582.2 306.4,579.3 316.0,576.4 325.6,573.3 335.2,570.2 344.8,566.9 354.3,563.6 363.7,560.2 373.2,556.7 382.6,553.1 392.0,549.5 401.4,545.8 410.7,541.9 420.0,538.0 429.2,533.9 438.4,529.7 447.5,525.4 456.5,521.0 465.6,516.5 474.6,512.0 483.5,507.4 492.4,502.7 501.3,497.9 510.1,493.0 518.9,488.1 527.6,483.0 536.2,477.8 544.8,472.6 553.3,467.2 561.8,461.7 570.2,456.2 578.5,450.5 586.8,444.9 595.1,439.1 603.3,433.3 611.4,427.4 619.5,421.4 627.5,415.4 635.6,409.3 643.5,403.2 651.4,397.0 659.3,390.7 667.1,384.4 674.9,378.1 682.6,371.7 690.3,365.2 698.1,358.8 705.7,352.4 713.4,345.8 720.9,339.2 728.3,332.4 735.5,325.4 742.0,317.5 749.5,310.9 757.0,304.3 764.4,297.5 771.9,290.8 779.3,284.0 786.6,277.2 794.0,270.4 801.2,263.5 808.5,256.6 815.7,249.6 822.9,242.7 830.1,235.6 837.2,228.6 844.3,221.5 851.3,214.3 858.3,207.2 865.3,200.0 872.3,192.7 879.2,185.5 886.0,178.1 892.7,170.7 899.3,163.1 905.7,155.4 912.0,147.6 912.0,147.6 905.7,155.4 899.3,163.1 892.7,170.7 886.0,178.1 879.2,185.5 872.3,192.7 865.3,200.0 858.3,207.2 851.3,214.3 844.3,221.5 837.2,228.6 830.1,235.6 822.9,242.7 815.7,249.6 808.5,256.6 801.2,263.5 794.0,270.4 786.6,277.2 779.3,284.0 771.9,290.8 764.4,297.5 757.0,304.3 749.5,310.9 742.0,317.5 733.3,322.9 725.4,329.0 717.5,335.3 709.8,341.6 702.1,348.0 694.4,354.4 686.6,360.7 678.8,367.0 671.0,373.2 663.1,379.4 655.2,385.6 647.3,391.7 639.4,397.8 631.4,403.8 623.4,409.8 615.3,415.7 607.2,421.6 599.0,427.3 590.8,433.1 582.6,438.7 574.3,444.2 565.9,449.7 557.5,455.0 549.0,460.3 540.5,465.5 531.9,470.6 523.3,475.7 514.7,480.7 506.0,485.6 497.2,490.4 488.4,495.1 479.5,499.7 470.6,504.2 461.7,508.7 452.7,512.9 443.6,517.1 434.5,521.1 425.3,525.1 416.1,529.0 406.9,532.8 397.7,536.5 388.4,540.2 379.1,543.7 369.7,547.2 360.3,550.5 350.9,553.7 341.4,556.8 331.9,559.8 322.3,562.7 312.8,565.5 303.2,568.2 293.5,570.9 283.9,573.6 274.4,576.4 264.8,579.1 255.1,581.7 245.5,584.3 235.8,586.8 226.1,589.2 216.4,591.5 206.6,593.8 196.9,596.1 187.2,598.5 177.4,600.8 167.6,603.0 167.1,603.2 166.6,603.5 166.3,603.9 166.0,604.3 165.9,604.9 165.9,605.4 166.1,605.9 166.4,606.4 166.8,606.8 167.3,607.0 167.8,607.1Z" fill="#1480d6"/>
<path d="M168.2,606.2 178.2,605.0 188.1,603.7 198.1,602.3 208.0,600.7 217.9,599.0 227.8,597.2 237.7,595.3 247.6,593.3 257.4,591.2 267.2,589.0 277.1,586.7 286.8,584.3 296.6,581.6 306.2,578.8 315.9,575.8 325.5,572.8 335.0,569.7 344.6,566.4 354.1,563.1 363.6,559.7 373.0,556.2 382.4,552.6 391.8,549.0 401.2,545.2 410.5,541.3 419.7,537.4 428.9,533.3 438.1,529.1 447.2,524.8 456.2,520.4 465.3,515.9 474.3,511.4 483.2,506.8 492.1,502.1 501.0,497.3 509.8,492.5 518.5,487.5 527.2,482.4 535.9,477.3 544.4,472.0 553.0,466.6 561.4,461.2 569.8,455.6 578.1,450.0 586.4,444.3 594.7,438.5 602.8,432.7 610.9,426.8 619.0,420.8 627.0,414.7 635.0,408.5 642.9,402.3 650.7,396.0 658.4,389.6 666.0,383.0 672.9,375.7 680.7,369.4 688.5,363.0 696.2,356.6 703.9,350.2 711.6,343.7 719.2,337.2 726.8,330.7 734.4,324.1 742.0,317.5 749.5,310.9 757.0,304.3 764.4,297.5 771.9,290.8 779.3,284.0 786.6,277.2 794.0,270.4 801.2,263.5 808.5,256.6 815.7,249.6 822.9,242.7 830.1,235.6 837.2,228.6 844.3,221.5 851.3,214.3 858.3,207.2 865.3,200.0 872.3,192.7 879.2,185.5 886.0,178.1 892.7,170.7 899.3,163.1 905.7,155.4 912.0,147.6 912.0,147.6 905.7,155.4 899.3,163.1 892.7,170.7 886.0,178.1 879.2,185.5 872.3,192.7 865.3,200.0 858.3,207.2 851.3,214.3 844.3,221.5 837.2,228.6 830.1,235.6 822.9,242.7 815.7,249.6 808.5,256.6 801.2,263.5 794.0,270.4 786.6,277.2 779.3,284.0 771.9,290.8 764.4,297.5 757.0,304.3 749.5,310.9 742.0,317.5 734.4,324.1 726.8,330.7 719.2,337.2 711.6,343.7 703.9,350.2 696.2,356.6 688.5,363.0 680.7,369.4 672.9,375.7 664.3,380.8 656.1,386.7 648.1,392.7 640.0,398.7 632.0,404.6 623.9,410.5 615.8,416.4 607.7,422.2 599.5,427.9 591.2,433.6 583.0,439.2 574.6,444.8 566.3,450.2 557.8,455.6 549.4,460.9 540.8,466.1 532.3,471.2 523.6,476.3 515.0,481.3 506.3,486.2 497.5,491.0 488.7,495.7 479.9,500.3 471.0,504.8 462.0,509.3 453.0,513.6 443.9,517.7 434.8,521.8 425.6,525.7 416.4,529.6 407.2,533.4 397.9,537.1 388.6,540.7 379.3,544.3 369.9,547.7 360.5,551.0 351.0,554.2 341.5,557.3 332.0,560.3 322.5,563.2 312.9,566.0 303.3,568.8 293.7,571.4 284.1,574.2 274.5,576.9 264.9,579.6 255.3,582.3 245.6,584.8 235.9,587.3 226.2,589.8 216.5,592.2 206.8,594.5 197.0,596.9 187.3,599.3 177.6,601.6 167.8,603.9 167.5,604.0 167.3,604.2 167.1,604.4 166.9,604.7 166.8,605.0 166.9,605.3 167.0,605.5 167.1,605.8 167.3,606.0 167.6,606.1 167.9,606.2Z" fill="#0e8ed1"/>
<path d="M168.0,605.1 177.9,603.3 187.7,601.5 197.6,599.6 207.8,599.3 217.7,597.9 227.6,596.2 237.5,594.4 247.4,592.5 257.2,590.4 267.1,588.2 276.9,585.9 286.6,583.5 296.4,580.9 306.0,578.1 315.7,575.1 325.3,572.1 334.8,569.0 344.4,565.8 353.9,562.4 363.3,559.0 372.8,555.5 382.2,551.9 391.5,548.2 400.8,544.4 410.1,540.5 419.3,536.5 428.5,532.3 437.6,528.1 446.7,523.8 455.8,519.4 464.8,514.9 473.8,510.4 482.7,505.8 491.6,501.1 500.5,496.4 509.2,491.5 518.0,486.5 526.6,481.4 535.3,476.2 543.8,471.0 552.3,465.6 560.8,460.2 569.1,454.6 577.5,449.0 585.7,443.2 593.8,437.3 601.7,431.1 609.3,424.5 617.4,418.6 625.5,412.6 633.5,406.6 641.4,400.5 649.4,394.4 657.3,388.2 665.1,381.9 672.9,375.7 680.7,369.4 688.5,363.0 696.2,356.6 703.9,350.2 711.6,343.7 719.2,337.2 726.8,330.7 734.4,324.1 742.0,317.5 749.5,310.9 757.0,304.3 764.4,297.5 771.9,290.8 779.3,284.0 786.6,277.2 794.0,270.4 801.2,263.5 808.5,256.6 815.7,249.6 822.9,242.7 830.1,235.6 837.2,228.6 844.3,221.5 851.3,214.3 858.3,207.2 865.3,200.0 872.3,192.7 879.2,185.5 886.0,178.1 892.7,170.7 899.3,163.1 905.7,155.4 912.0,147.6 912.0,147.6 905.7,155.4 899.3,163.1 892.7,170.7 886.0,178.1 879.2,185.5 872.3,192.7 865.3,200.0 858.3,207.2 851.3,214.3 844.3,221.5 837.2,228.6 830.1,235.6 822.9,242.7 815.7,249.6 808.5,256.6 801.2,263.5 794.0,270.4 786.6,277.2 779.3,284.0 771.9,290.8 764.4,297.5 757.0,304.3 749.5,310.9 742.0,317.5 734.4,324.1 726.8,330.7 719.2,337.2 711.6,343.7 703.9,350.2 696.2,356.6 688.5,363.0 680.7,369.4 672.9,375.7 665.1,381.9 657.3,388.2 649.4,394.4 641.4,400.5 633.5,406.6 625.5,412.6 617.4,418.6 609.3,424.5 600.6,429.5 592.1,434.9 583.7,440.3 575.3,445.8 566.9,451.2 558.5,456.6 550.0,461.9 541.4,467.1 532.9,472.2 524.2,477.3 515.6,482.3 506.8,487.2 498.1,492.0 489.2,496.7 480.4,501.3 471.5,505.8 462.5,510.3 453.5,514.6 444.4,518.7 435.2,522.7 426.0,526.7 416.8,530.5 407.5,534.2 398.2,537.9 388.9,541.5 379.5,545.0 370.2,548.4 360.7,551.7 351.3,554.9 341.8,558.0 332.2,561.0 322.7,563.9 313.1,566.7 303.5,569.5 293.9,572.2 284.3,574.9 274.7,577.7 265.1,580.4 255.4,583.0 245.8,585.6 236.1,588.2 226.4,590.7 216.7,593.3 207.1,595.9 197.6,599.6 187.7,601.5 177.9,603.3 168.0,605.1Z" fill="#099dcc"/>
<path d="M168.0,605.1 177.9,603.3 187.7,601.5 197.6,599.6 207.4,597.6 217.2,595.6 227.0,593.5 236.8,591.3 247.0,591.0 256.9,589.1 266.7,587.0 276.5,584.7 286.3,582.4 296.0,579.8 305.7,577.0 315.3,574.1 324.9,571.1 334.5,567.9 344.0,564.7 353.5,561.4 362.9,557.9 372.4,554.4 381.7,550.6 391.0,546.7 400.1,542.6 408.8,537.4 418.1,533.5 427.3,529.5 436.4,525.4 445.5,521.2 454.6,517.0 463.6,512.6 472.6,508.1 481.5,503.6 490.4,498.9 499.3,494.2 508.0,489.3 516.8,484.4 525.4,479.4 534.1,474.2 542.6,469.0 551.2,463.8 559.6,458.4 568.0,452.9 576.4,447.4 584.7,441.8 592.9,436.1 601.1,430.3 609.3,424.5 617.4,418.6 625.5,412.6 633.5,406.6 641.4,400.5 649.4,394.4 657.3,388.2 665.1,381.9 672.9,375.7 680.7,369.4 688.5,363.0 696.2,356.6 703.9,350.2 711.6,343.7 719.2,337.2 726.8,330.7 734.4,324.1 742.0,317.5 749.5,310.9 757.0,304.3 764.4,297.5 771.9,290.8 779.3,284.0 786.6,277.2 794.0,270.4 801.2,263.5 808.5,256.6 815.7,249.6 822.9,242.7 830.1,235.6 837.2,228.6 844.3,221.5 851.3,214.3 858.3,207.2 865.3,200.0 872.3,192.7 879.2,185.5 886.0,178.1 892.7,170.7 899.3,163.1 905.7,155.4 912.0,147.6 912.0,147.6 905.7,155.4 899.3,163.1 892.7,170.7 886.0,178.1 879.2,185.5 872.3,192.7 865.3,200.0 858.3,207.2 851.3,214.3 844.3,221.5 837.2,228.6 830.1,235.6 822.9,242.7 815.7,249.6 808.5,256.6 801.2,263.5 794.0,270.4 786.6,277.2 779.3,284.0 771.9,290.8 764.4,297.5 757.0,304.3 749.5,310.9 742.0,317.5 734.4,324.1 726.8,330.7 719.2,337.2 711.6,343.7 703.9,350.2 696.2,356.6 688.5,363.0 680.7,369.4 672.9,375.7 665.1,381.9 657.3,388.2 649.4,394.4 641.4,400.5 633.5,406.6 625.5,412.6 617.4,418.6 609.3,424.5 601.1,430.3 592.9,436.1 584.7,441.8 576.4,447.4 568.0,452.9 559.6,458.4 551.2,463.8 542.6,469.0 534.1,474.2 525.4,479.4 516.8,484.4 508.0,489.3 499.3,494.2 490.4,498.9 481.5,503.6 472.6,508.1 463.6,512.6 454.6,517.0 445.5,521.2 436.4,525.4 427.3,529.5 418.1,533.5 408.8,537.4 399.0,539.8 389.5,542.9 380.0,546.2 370.6,549.5 361.1,552.7 351.6,555.9 342.1,559.0 332.6,562.0 323.0,564.9 313.4,567.8 303.8,570.6 294.2,573.3 284.6,576.0 275.0,578.9 265.4,581.6 255.8,584.3 246.1,587.1 236.8,591.3 227.0,593.5 217.2,595.6 207.4,597.6 197.6,599.6 187.7,601.5 177.9,603.3 168.0,605.1Z" fill="#0da7c3"/></g>
</g>
<g><path d="M155.9,604.8 163.6,603.8 171.4,602.6 179.2,601.2 187.0,599.5 194.7,597.7 202.3,595.8 209.9,593.7 217.5,591.5 225.0,589.2 232.5,586.7 240.0,584.1 247.3,581.2 254.6,578.2 261.8,575.1 269.0,571.9 276.1,568.6 283.2,565.3 290.2,561.8 297.2,558.3 304.1,554.6 311.0,550.8 317.8,546.9 324.6,543.0 331.3,538.9 338.0,534.7 344.6,530.5 351.1,526.1 357.6,521.7 364.0,517.2 370.4,512.6 376.7,507.9 383.0,503.1 389.2,498.3 395.3,493.4 401.3,488.3 407.3,483.2 413.2,478.1 419.1,472.9 424.9,467.7 430.6,462.4 436.3,457.0 442.0,451.7 447.6,446.2 453.1,440.8 458.7,435.3 464.2,429.8 469.7,424.3 475.1,418.8 480.6,413.1 485.9,407.5 491.2,401.8 496.5,396.0 501.7,390.2 506.9,384.4 512.0,378.5 517.1,372.6 522.1,366.7 527.1,360.7 532.1,354.7 537.1,348.7 542.0,342.7 547.0,336.7 551.9,330.7 556.7,324.6 561.6,318.5 566.4,312.4 571.2,306.3 576.0,300.2 580.7,294.1 585.5,287.9 590.2,281.7 594.9,275.5 599.6,269.3 604.2,263.1 608.9,256.9 613.5,250.7 618.1,244.4 622.7,238.1 627.2,231.9 631.7,225.5 636.2,219.2 640.6,212.8 645.1,206.5 649.5,200.1 653.9,193.7 658.3,187.3 662.7,180.9 667.0,174.5 671.4,168.0 660.6,160.6 656.2,167.0 651.7,173.3 647.2,179.6 642.7,185.9 638.2,192.1 633.7,198.4 629.2,204.7 624.7,210.9 620.1,217.2 615.5,223.4 611.0,229.7 606.5,235.9 601.9,242.2 597.3,248.4 592.7,254.6 588.1,260.8 583.5,267.0 578.9,273.2 574.2,279.3 569.5,285.5 564.8,291.6 560.1,297.7 555.4,303.8 550.6,309.9 545.8,315.9 541.0,322.0 536.2,328.0 531.4,334.0 526.5,340.0 521.5,345.9 516.6,351.8 511.5,357.6 506.5,363.4 501.4,369.2 496.3,374.9 491.1,380.6 485.9,386.3 480.7,391.9 475.4,397.5 470.0,403.0 464.7,408.6 459.3,414.0 453.9,419.5 448.4,424.9 442.9,430.3 437.4,435.7 431.8,441.1 426.2,446.4 420.6,451.6 415.0,456.8 409.3,461.9 403.5,467.0 397.7,472.0 391.8,476.9 385.9,481.6 379.8,486.3 373.7,490.8 367.5,495.3 361.3,499.7 355.0,504.0 348.6,508.2 342.1,512.3 335.6,516.2 329.1,520.1 322.4,524.0 315.8,527.7 309.1,531.4 302.4,535.1 295.7,538.7 288.9,542.2 282.1,545.7 275.3,549.3 268.4,552.7 261.6,556.1 254.7,559.4 247.7,562.5 240.8,565.6 233.8,568.7 226.8,571.7 219.8,574.6 212.7,577.4 205.6,580.1 198.4,582.6 191.1,584.8 183.8,586.9 176.5,588.8 169.1,590.6 161.7,592.1 154.1,593.4 152.7,593.8 151.4,594.6 150.4,595.7 149.7,597.0 149.3,598.5 149.3,599.9 149.8,601.4 150.5,602.7 151.6,603.7 152.9,604.4 154.4,604.8Z" fill="#0da7c3" opacity="0.4"/>
<path d="M155.8,604.2 163.5,603.2 171.3,602.0 179.1,600.6 186.8,598.9 194.5,597.1 202.1,595.2 209.7,593.1 217.3,590.9 224.8,588.6 232.3,586.1 239.7,583.4 247.1,580.6 254.3,577.6 261.5,574.5 268.7,571.3 275.8,568.0 282.9,564.7 289.9,561.2 296.9,557.7 303.8,554.0 310.7,550.2 317.5,546.3 324.3,542.4 331.0,538.3 337.6,534.1 344.2,529.9 350.7,525.5 357.2,521.1 363.6,516.6 370.0,512.0 376.3,507.3 382.6,502.6 388.7,497.7 394.8,492.8 400.9,487.8 406.8,482.7 412.8,477.6 418.6,472.4 424.4,467.1 430.1,461.8 435.8,456.5 441.5,451.1 447.0,445.7 452.6,440.3 458.1,434.8 463.7,429.3 469.1,423.8 474.6,418.2 480.0,412.6 485.4,407.0 490.7,401.2 495.9,395.5 501.1,389.7 506.3,383.8 511.4,378.0 516.5,372.0 521.5,366.1 526.5,360.1 531.5,354.2 536.4,348.2 541.4,342.2 546.3,336.1 551.2,330.1 556.0,324.0 560.8,317.9 565.7,311.9 570.4,305.7 575.2,299.6 580.0,293.5 584.7,287.3 589.4,281.1 594.1,274.9 598.7,268.7 603.4,262.5 608.0,256.3 612.6,250.0 617.2,243.8 621.8,237.5 626.3,231.2 630.8,224.9 635.3,218.5 639.7,212.2 644.2,205.8 648.6,199.4 653.0,193.0 657.4,186.6 661.7,180.2 666.1,173.8 670.4,167.4 661.6,161.3 657.1,167.6 652.7,173.9 648.2,180.2 643.7,186.5 639.2,192.8 634.7,199.1 630.1,205.3 625.6,211.6 621.0,217.8 616.4,224.0 611.9,230.3 607.3,236.5 602.8,242.8 598.2,249.0 593.6,255.2 589.0,261.4 584.3,267.6 579.7,273.8 575.0,279.9 570.3,286.1 565.6,292.2 560.9,298.3 556.1,304.4 551.4,310.5 546.6,316.5 541.8,322.5 536.9,328.6 532.0,334.5 527.2,340.5 522.2,346.4 517.2,352.3 512.2,358.1 507.1,364.0 502.0,369.7 496.9,375.5 491.7,381.2 486.5,386.8 481.2,392.5 475.9,398.0 470.6,403.6 465.2,409.1 459.8,414.6 454.4,420.1 448.9,425.5 443.4,430.9 437.9,436.3 432.3,441.6 426.8,446.9 421.1,452.2 415.5,457.4 409.8,462.5 404.0,467.6 398.2,472.6 392.3,477.4 386.3,482.2 380.3,486.8 374.2,491.4 368.0,495.9 361.7,500.3 355.4,504.6 349.0,508.8 342.5,512.9 336.0,516.8 329.4,520.7 322.8,524.6 316.1,528.3 309.5,532.0 302.7,535.7 296.0,539.3 289.2,542.8 282.4,546.3 275.6,549.9 268.7,553.3 261.9,556.7 255.0,560.0 248.0,563.1 241.0,566.2 234.0,569.3 227.0,572.3 220.0,575.2 212.9,578.0 205.8,580.7 198.6,583.2 191.3,585.4 184.0,587.5 176.6,589.4 169.2,591.2 161.8,592.7 154.2,594.0 153.0,594.4 151.8,595.1 150.9,596.1 150.2,597.2 149.9,598.5 149.9,599.9 150.3,601.1 151.0,602.3 152.0,603.2 153.1,603.9 154.4,604.2Z" fill="#0da7c3"/>
<path d="M155.6,603.0 163.3,602.0 171.1,600.8 178.8,599.4 186.5,597.8 194.2,596.0 201.8,594.0 209.4,592.0 216.9,589.8 224.4,587.4 231.9,584.9 239.3,582.3 246.6,579.5 253.8,576.5 261.0,573.4 268.2,570.2 275.3,566.9 282.4,563.6 289.4,560.2 296.4,556.6 303.2,552.9 310.1,549.1 316.9,545.3 323.7,541.4 330.4,537.3 337.0,533.1 343.6,528.9 350.1,524.5 356.5,520.1 362.9,515.6 369.3,511.0 375.6,506.3 381.8,501.6 388.0,496.8 394.1,491.8 400.1,486.8 406.0,481.8 412.0,476.7 417.8,471.5 423.6,466.2 429.3,461.0 435.0,455.6 440.6,450.2 446.2,444.8 451.8,439.4 457.3,433.9 462.8,428.5 468.3,422.9 473.7,417.4 479.1,411.8 484.5,406.1 489.8,400.4 495.0,394.7 500.2,388.9 505.4,383.0 510.5,377.2 515.5,371.2 520.6,365.3 525.5,359.3 530.5,353.4 535.4,347.4 540.4,341.3 545.3,335.3 550.1,329.3 555.0,323.2 559.8,317.1 564.6,311.0 569.4,304.9 574.1,298.8 578.8,292.6 583.5,286.4 588.2,280.2 592.9,274.0 597.5,267.8 602.2,261.6 606.8,255.4 611.4,249.1 615.9,242.8 620.5,236.6 625.0,230.3 629.5,223.9 633.9,217.5 638.3,211.2 642.7,204.8 647.1,198.4 651.5,192.0 655.9,185.6 660.2,179.2 664.6,172.7 668.9,166.3 663.1,162.4 658.7,168.7 654.2,175.0 649.7,181.3 645.1,187.5 640.6,193.8 636.1,200.1 631.5,206.3 626.9,212.6 622.4,218.8 617.8,225.0 613.2,231.3 608.6,237.5 604.0,243.7 599.4,249.9 594.8,256.1 590.2,262.3 585.5,268.5 580.8,274.6 576.1,280.8 571.4,286.9 566.7,293.0 562.0,299.1 557.2,305.2 552.4,311.3 547.6,317.3 542.8,323.4 537.9,329.4 533.0,335.4 528.1,341.3 523.2,347.2 518.2,353.1 513.1,358.9 508.0,364.8 502.9,370.5 497.8,376.3 492.6,382.0 487.4,387.6 482.1,393.3 476.8,398.9 471.5,404.4 466.1,409.9 460.7,415.4 455.3,420.9 449.8,426.3 444.3,431.7 438.7,437.1 433.2,442.5 427.6,447.8 422.0,453.0 416.3,458.2 410.6,463.4 404.8,468.5 399.0,473.5 393.1,478.3 387.1,483.1 381.0,487.8 374.9,492.4 368.7,496.9 362.4,501.3 356.1,505.6 349.6,509.8 343.2,513.9 336.6,517.9 330.1,521.8 323.4,525.6 316.7,529.3 310.0,533.1 303.3,536.8 296.5,540.4 289.7,543.9 282.9,547.4 276.1,550.9 269.2,554.4 262.4,557.8 255.4,561.0 248.5,564.2 241.5,567.3 234.5,570.4 227.5,573.4 220.4,576.4 213.3,579.1 206.1,581.8 198.9,584.3 191.6,586.6 184.3,588.7 176.9,590.6 169.5,592.3 162.0,593.9 154.4,595.2 153.4,595.5 152.6,596.0 151.8,596.8 151.3,597.7 151.1,598.7 151.1,599.7 151.4,600.7 151.9,601.5 152.7,602.3 153.6,602.7 154.6,603.0Z" fill="#1eafb3"/>
<path d="M155.6,603.0 163.3,602.0 171.1,600.8 178.8,599.4 186.5,597.8 194.2,596.0 201.8,594.0 209.4,592.0 216.9,589.8 224.4,587.4 231.9,584.9 239.3,582.3 246.6,579.5 253.8,576.5 261.0,573.4 268.2,570.2 275.3,566.9 282.3,563.5 289.4,560.1 296.3,556.6 303.2,552.9 310.1,549.1 316.9,545.2 323.6,541.3 330.3,537.2 337.0,533.1 343.5,528.8 350.0,524.5 356.5,520.0 362.9,515.5 369.3,510.9 375.5,506.3 381.8,501.5 387.9,496.7 394.0,491.8 400.0,486.7 406.0,481.7 411.9,476.6 417.7,471.4 423.5,466.1 429.2,460.8 434.9,455.5 440.5,450.1 446.1,444.7 451.6,439.3 457.1,433.8 462.6,428.3 468.1,422.7 473.5,417.1 478.8,411.5 484.2,405.8 489.4,400.1 494.6,394.3 499.8,388.5 504.9,382.6 510.0,376.7 515.0,370.8 520.0,364.8 525.0,358.8 529.9,352.8 534.8,346.8 539.6,340.8 544.5,334.7 549.3,328.6 554.1,322.5 558.9,316.4 563.7,310.3 568.4,304.1 573.1,297.9 577.7,291.8 582.4,285.5 587.0,279.3 591.5,273.0 596.1,266.7 600.6,260.4 605.0,254.1 609.5,247.8 614.0,241.4 618.4,235.0 622.7,228.6 626.8,222.0 630.4,215.1 634.9,208.8 639.4,202.4 643.9,196.1 648.3,189.8 652.8,183.4 657.2,177.1 661.6,170.7 666.0,164.3 666.0,164.3 661.6,170.7 657.2,177.1 652.8,183.4 648.3,189.8 643.9,196.1 639.4,202.4 634.9,208.8 630.4,215.1 625.0,220.7 620.1,226.7 615.3,232.8 610.6,238.9 605.9,245.1 601.1,251.2 596.4,257.3 591.6,263.4 586.9,269.5 582.1,275.6 577.3,281.7 572.5,287.8 567.7,293.8 562.9,299.9 558.1,305.9 553.3,312.0 548.4,318.0 543.6,324.0 538.7,330.0 533.8,335.9 528.8,341.9 523.8,347.8 518.7,353.6 513.7,359.4 508.6,365.2 503.4,371.0 498.3,376.7 493.0,382.4 487.8,388.0 482.5,393.6 477.1,399.2 471.8,404.7 466.4,410.2 460.9,415.7 455.4,421.1 449.9,426.5 444.4,431.9 438.9,437.3 433.3,442.6 427.7,447.9 422.1,453.2 416.4,458.4 410.7,463.5 404.9,468.6 399.1,473.6 393.2,478.4 387.1,483.2 381.1,487.9 374.9,492.5 368.7,496.9 362.4,501.3 356.1,505.7 349.7,509.8 343.2,513.9 336.7,517.9 330.1,521.8 323.5,525.7 316.8,529.4 310.1,533.1 303.3,536.8 296.6,540.4 289.8,543.9 282.9,547.5 276.1,551.0 269.3,554.4 262.4,557.8 255.5,561.1 248.5,564.3 241.5,567.4 234.5,570.4 227.5,573.5 220.4,576.4 213.3,579.2 206.1,581.8 198.9,584.3 191.6,586.6 184.3,588.7 176.9,590.6 169.5,592.3 162.0,593.9 154.4,595.2 153.4,595.5 152.6,596.0 151.8,596.8 151.3,597.7 151.1,598.7 151.1,599.7 151.4,600.7 151.9,601.5 152.7,602.3 153.6,602.7 154.6,603.0Z" fill="#2eb7a4"/>
<path d="M155.5,602.6 163.3,601.6 171.0,600.4 178.8,599.0 186.4,597.4 194.1,595.6 201.7,593.6 209.3,591.6 216.8,589.4 224.3,587.1 231.7,584.6 239.1,582.0 246.5,579.2 253.7,576.2 260.9,573.1 268.0,569.9 275.1,566.6 282.2,563.3 289.2,559.8 296.2,556.3 303.1,552.6 309.9,548.8 316.7,545.0 323.5,541.0 330.2,537.0 336.8,532.8 343.4,528.6 349.9,524.2 356.3,519.8 362.7,515.3 369.1,510.7 375.4,506.1 381.6,501.3 387.7,496.5 393.8,491.5 399.8,486.5 405.8,481.4 411.7,476.3 417.5,471.1 423.2,465.9 428.9,460.5 434.6,455.2 440.2,449.8 445.8,444.4 451.3,438.9 456.8,433.4 462.2,427.9 467.7,422.3 473.0,416.7 478.4,411.1 483.7,405.4 488.9,399.6 494.0,393.8 499.1,387.9 504.2,382.0 509.2,376.0 514.2,370.1 519.1,364.1 524.0,358.0 528.7,351.9 533.4,345.7 537.9,339.4 541.6,332.3 546.5,326.3 551.3,320.3 556.1,314.2 560.9,308.1 565.7,302.0 570.4,295.9 575.1,289.8 579.8,283.6 584.5,277.4 589.2,271.3 593.8,265.1 598.5,258.9 603.1,252.6 607.7,246.4 612.3,240.2 616.8,233.9 621.4,227.6 625.9,221.4 630.4,215.1 634.9,208.8 639.4,202.4 643.9,196.1 648.3,189.8 652.8,183.4 657.2,177.1 661.6,170.7 666.0,164.3 666.0,164.3 661.6,170.7 657.2,177.1 652.8,183.4 648.3,189.8 643.9,196.1 639.4,202.4 634.9,208.8 630.4,215.1 625.9,221.4 621.4,227.6 616.8,233.9 612.3,240.2 607.7,246.4 603.1,252.6 598.5,258.9 593.8,265.1 589.2,271.3 584.5,277.4 579.8,283.6 575.1,289.8 570.4,295.9 565.7,302.0 560.9,308.1 556.1,314.2 551.3,320.3 546.5,326.3 541.6,332.3 535.5,337.3 530.1,343.0 524.9,348.7 519.7,354.4 514.6,360.2 509.4,365.9 504.2,371.6 499.0,377.3 493.7,383.0 488.4,388.5 483.0,394.1 477.6,399.6 472.2,405.1 466.8,410.6 461.3,416.0 455.8,421.5 450.3,426.9 444.8,432.2 439.2,437.6 433.6,442.9 428.0,448.2 422.3,453.5 416.7,458.6 410.9,463.8 405.1,468.8 399.3,473.8 393.4,478.7 387.3,483.4 381.2,488.1 375.1,492.7 368.9,497.2 362.6,501.6 356.3,505.9 349.8,510.1 343.4,514.2 336.8,518.2 330.2,522.1 323.6,525.9 316.9,529.7 310.2,533.4 303.5,537.1 296.7,540.7 289.9,544.2 283.1,547.8 276.3,551.3 269.4,554.7 262.5,558.1 255.6,561.4 248.6,564.6 241.6,567.7 234.6,570.7 227.6,573.8 220.5,576.7 213.4,579.5 206.2,582.2 199.0,584.7 191.7,587.0 184.4,589.1 177.0,591.0 169.5,592.7 162.0,594.2 154.5,595.6 153.6,595.8 152.8,596.3 152.1,597.0 151.7,597.8 151.4,598.7 151.5,599.6 151.7,600.5 152.2,601.3 152.9,602.0 153.7,602.4 154.6,602.6Z" fill="#52ba91"/>
<path d="M155.4,601.7 163.1,600.9 170.9,599.8 178.6,598.4 186.3,596.9 193.9,595.1 201.5,593.2 209.1,591.2 216.7,589.0 224.1,586.7 231.6,584.2 239.0,581.6 246.3,578.8 253.5,575.8 260.7,572.7 267.9,569.5 275.0,566.3 282.0,562.9 289.1,559.5 296.0,556.0 302.9,552.3 309.8,548.5 316.6,544.7 323.3,540.8 330.0,536.7 336.6,532.5 343.2,528.3 349.7,524.0 356.2,519.5 362.6,515.0 368.9,510.5 375.2,505.8 381.4,501.0 387.5,496.2 393.6,491.3 399.6,486.2 405.5,481.2 411.4,476.0 417.2,470.8 422.9,465.5 428.6,460.2 434.2,454.8 439.8,449.4 445.4,443.9 450.9,438.5 456.3,432.9 461.7,427.4 467.1,421.8 472.4,416.1 477.7,410.4 482.9,404.6 488.0,398.8 493.0,392.8 497.8,386.6 501.6,379.6 506.7,373.8 511.8,368.0 516.8,362.1 521.9,356.2 526.8,350.3 531.8,344.3 536.7,338.4 541.6,332.3 546.5,326.3 551.3,320.3 556.1,314.2 560.9,308.1 565.7,302.0 570.4,295.9 575.1,289.8 579.8,283.6 584.5,277.4 589.2,271.3 593.8,265.1 598.5,258.9 603.1,252.6 607.7,246.4 612.3,240.2 616.8,233.9 621.4,227.6 625.9,221.4 630.4,215.1 634.9,208.8 639.4,202.4 643.9,196.1 648.3,189.8 652.8,183.4 657.2,177.1 661.6,170.7 666.0,164.3 666.0,164.3 661.6,170.7 657.2,177.1 652.8,183.4 648.3,189.8 643.9,196.1 639.4,202.4 634.9,208.8 630.4,215.1 625.9,221.4 621.4,227.6 616.8,233.9 612.3,240.2 607.7,246.4 603.1,252.6 598.5,258.9 593.8,265.1 589.2,271.3 584.5,277.4 579.8,283.6 575.1,289.8 570.4,295.9 565.7,302.0 560.9,308.1 556.1,314.2 551.3,320.3 546.5,326.3 541.6,332.3 536.7,338.4 531.8,344.3 526.8,350.3 521.9,356.2 516.8,362.1 511.8,368.0 506.7,373.8 501.6,379.6 495.1,384.2 489.4,389.5 483.9,394.9 478.4,400.3 472.9,405.8 467.4,411.2 461.9,416.6 456.3,422.0 450.8,427.3 445.2,432.7 439.6,438.0 434.0,443.3 428.4,448.6 422.7,453.8 417.0,459.0 411.2,464.1 405.4,469.1 399.5,474.1 393.6,478.9 387.5,483.7 381.4,488.4 375.3,492.9 369.1,497.4 362.8,501.8 356.4,506.1 350.0,510.3 343.5,514.4 337.0,518.4 330.4,522.4 323.8,526.2 317.1,530.0 310.4,533.7 303.7,537.4 296.9,541.0 290.1,544.5 283.2,548.1 276.4,551.6 269.6,555.1 262.7,558.4 255.8,561.7 248.8,564.9 241.8,568.0 234.8,571.1 227.7,574.1 220.7,577.1 213.6,579.9 206.4,582.6 199.2,585.2 191.9,587.5 184.5,589.6 177.1,591.6 169.7,593.4 162.2,595.0 154.6,596.5 153.9,596.7 153.3,597.0 152.9,597.5 152.5,598.1 152.4,598.8 152.4,599.5 152.6,600.2 152.9,600.8 153.4,601.2 154.0,601.6 154.7,601.7Z" fill="#74bd80"/>
<path d="M155.0,599.1 162.7,598.5 170.7,598.6 178.4,597.5 186.1,596.1 193.8,594.4 201.4,592.5 208.9,590.6 216.5,588.5 224.0,586.2 231.4,583.8 238.8,581.2 246.1,578.4 253.4,575.4 260.6,572.3 267.7,569.2 274.8,565.9 281.9,562.6 288.9,559.1 295.8,555.6 302.7,551.9 309.6,548.2 316.4,544.3 323.1,540.4 329.8,536.4 336.5,532.2 343.0,528.0 349.5,523.7 356.0,519.2 362.4,514.7 368.7,510.2 375.0,505.5 381.2,500.8 387.3,495.9 393.4,491.0 399.3,485.9 405.2,480.8 411.1,475.7 416.9,470.4 422.6,465.1 428.2,459.7 433.8,454.3 439.3,448.9 444.8,443.4 450.2,437.8 455.6,432.2 460.9,426.6 466.1,420.8 471.1,414.9 475.3,408.1 480.6,402.5 485.9,396.8 491.2,391.2 496.4,385.4 501.6,379.6 506.7,373.8 511.8,368.0 516.8,362.1 521.9,356.2 526.8,350.3 531.8,344.3 536.7,338.4 541.6,332.3 546.5,326.3 551.3,320.3 556.1,314.2 560.9,308.1 565.7,302.0 570.4,295.9 575.1,289.8 579.8,283.6 584.5,277.4 589.2,271.3 593.8,265.1 598.5,258.9 603.1,252.6 607.7,246.4 612.3,240.2 616.8,233.9 621.4,227.6 625.9,221.4 630.4,215.1 634.9,208.8 639.4,202.4 643.9,196.1 648.3,189.8 652.8,183.4 657.2,177.1 661.6,170.7 666.0,164.3 666.0,164.3 661.6,170.7 657.2,177.1 652.8,183.4 648.3,189.8 643.9,196.1 639.4,202.4 634.9,208.8 630.4,215.1 625.9,221.4 621.4,227.6 616.8,233.9 612.3,240.2 607.7,246.4 603.1,252.6 598.5,258.9 593.8,265.1 589.2,271.3 584.5,277.4 579.8,283.6 575.1,289.8 570.4,295.9 565.7,302.0 560.9,308.1 556.1,314.2 551.3,320.3 546.5,326.3 541.6,332.3 536.7,338.4 531.8,344.3 526.8,350.3 521.9,356.2 516.8,362.1 511.8,368.0 506.7,373.8 501.6,379.6 496.4,385.4 491.2,391.2 485.9,396.8 480.6,402.5 475.3,408.1 468.7,412.5 462.8,417.5 457.1,422.8 451.5,428.0 445.8,433.3 440.2,438.6 434.5,443.9 428.8,449.1 423.1,454.3 417.3,459.4 411.5,464.5 405.7,469.5 399.8,474.4 393.8,479.3 387.8,484.0 381.7,488.7 375.5,493.2 369.3,497.7 363.0,502.1 356.6,506.4 350.2,510.6 343.7,514.7 337.2,518.7 330.6,522.7 324.0,526.5 317.3,530.3 310.6,534.0 303.8,537.7 297.1,541.3 290.2,544.9 283.4,548.4 276.6,552.0 269.8,555.4 262.9,558.8 255.9,562.1 249.0,565.3 242.0,568.5 234.9,571.5 227.9,574.6 220.8,577.6 213.7,580.4 206.6,583.2 199.4,585.8 192.1,588.2 184.7,590.4 177.3,592.5 169.9,594.6 162.6,597.4 155.0,599.1Z" fill="#96be71"/>
<path d="M155.0,599.1 162.7,597.9 170.3,596.6 177.9,595.0 185.4,593.2 193.4,593.0 201.1,591.5 208.7,589.8 216.3,587.8 223.8,585.6 231.2,583.3 238.6,580.7 245.9,577.9 253.2,574.9 260.3,571.9 267.5,568.7 274.6,565.5 281.6,562.1 288.7,558.7 295.6,555.2 302.5,551.5 309.4,547.8 316.2,544.0 322.9,540.1 329.6,536.0 336.2,531.9 342.8,527.6 349.3,523.3 355.8,518.9 362.2,514.4 368.5,509.9 374.8,505.2 380.9,500.4 387.0,495.6 393.1,490.6 399.0,485.5 404.9,480.4 410.7,475.2 416.4,469.9 422.0,464.5 427.5,459.0 433.0,453.5 438.3,447.9 443.5,442.0 448.0,435.6 453.5,430.1 459.0,424.7 464.5,419.2 469.9,413.7 475.3,408.1 480.6,402.5 485.9,396.8 491.2,391.2 496.4,385.4 501.6,379.6 506.7,373.8 511.8,368.0 516.8,362.1 521.9,356.2 526.8,350.3 531.8,344.3 536.7,338.4 541.6,332.3 546.5,326.3 551.3,320.3 556.1,314.2 560.9,308.1 565.7,302.0 570.4,295.9 575.1,289.8 579.8,283.6 584.5,277.4 589.2,271.3 593.8,265.1 598.5,258.9 603.1,252.6 607.7,246.4 612.3,240.2 616.8,233.9 621.4,227.6 625.9,221.4 630.4,215.1 634.9,208.8 639.4,202.4 643.9,196.1 648.3,189.8 652.8,183.4 657.2,177.1 661.6,170.7 666.0,164.3 666.0,164.3 661.6,170.7 657.2,177.1 652.8,183.4 648.3,189.8 643.9,196.1 639.4,202.4 634.9,208.8 630.4,215.1 625.9,221.4 621.4,227.6 616.8,233.9 612.3,240.2 607.7,246.4 603.1,252.6 598.5,258.9 593.8,265.1 589.2,271.3 584.5,277.4 579.8,283.6 575.1,289.8 570.4,295.9 565.7,302.0 560.9,308.1 556.1,314.2 551.3,320.3 546.5,326.3 541.6,332.3 536.7,338.4 531.8,344.3 526.8,350.3 521.9,356.2 516.8,362.1 511.8,368.0 506.7,373.8 501.6,379.6 496.4,385.4 491.2,391.2 485.9,396.8 480.6,402.5 475.3,408.1 469.9,413.7 464.5,419.2 459.0,424.7 453.5,430.1 448.0,435.6 441.5,440.0 435.5,444.9 429.6,449.9 423.7,454.9 417.9,460.0 412.0,465.0 406.1,469.9 400.2,474.8 394.2,479.7 388.1,484.4 382.0,489.0 375.8,493.6 369.5,498.0 363.2,502.4 356.9,506.7 350.4,510.9 343.9,515.0 337.4,519.1 330.8,523.0 324.2,526.9 317.5,530.6 310.8,534.4 304.1,538.1 297.3,541.7 290.5,545.3 283.6,548.9 276.8,552.4 270.0,555.9 263.1,559.3 256.1,562.6 249.2,565.8 242.2,568.9 235.1,572.0 228.1,575.1 221.1,578.2 214.0,581.1 206.8,584.0 199.7,586.8 192.4,589.5 185.4,593.2 177.9,595.0 170.3,596.6 162.7,597.9 155.0,599.1Z" fill="#b4bd65"/>
<path d="M155.0,599.1 162.7,597.9 170.3,596.6 177.9,595.0 185.4,593.2 192.9,591.3 200.4,589.2 207.8,586.9 215.8,586.6 223.4,584.7 230.9,582.5 238.4,580.0 245.7,577.3 252.9,574.3 260.1,571.3 267.2,568.1 274.3,564.9 281.4,561.6 288.4,558.2 295.4,554.7 302.2,551.0 309.1,547.3 315.9,543.5 322.7,539.6 329.4,535.6 336.0,531.5 342.6,527.2 349.1,522.9 355.5,518.5 361.9,514.0 368.2,509.5 374.5,504.8 380.6,500.0 386.7,495.1 392.7,490.1 398.6,485.0 404.4,479.8 410.0,474.4 415.5,468.9 420.2,462.6 425.6,457.0 431.3,451.7 436.9,446.4 442.5,441.0 448.0,435.6 453.5,430.1 459.0,424.7 464.5,419.2 469.9,413.7 475.3,408.1 480.6,402.5 485.9,396.8 491.2,391.2 496.4,385.4 501.6,379.6 506.7,373.8 511.8,368.0 516.8,362.1 521.9,356.2 526.8,350.3 531.8,344.3 536.7,338.4 541.6,332.3 546.5,326.3 551.3,320.3 556.1,314.2 560.9,308.1 565.7,302.0 570.4,295.9 575.1,289.8 579.8,283.6 584.5,277.4 589.2,271.3 593.8,265.1 598.5,258.9 603.1,252.6 607.7,246.4 612.3,240.2 616.8,233.9 621.4,227.6 625.9,221.4 630.4,215.1 634.9,208.8 639.4,202.4 643.9,196.1 648.3,189.8 652.8,183.4 657.2,177.1 661.6,170.7 666.0,164.3 666.0,164.3 661.6,170.7 657.2,177.1 652.8,183.4 648.3,189.8 643.9,196.1 639.4,202.4 634.9,208.8 630.4,215.1 625.9,221.4 621.4,227.6 616.8,233.9 612.3,240.2 607.7,246.4 603.1,252.6 598.5,258.9 593.8,265.1 589.2,271.3 584.5,277.4 579.8,283.6 575.1,289.8 570.4,295.9 565.7,302.0 560.9,308.1 556.1,314.2 551.3,320.3 546.5,326.3 541.6,332.3 536.7,338.4 531.8,344.3 526.8,350.3 521.9,356.2 516.8,362.1 511.8,368.0 506.7,373.8 501.6,379.6 496.4,385.4 491.2,391.2 485.9,396.8 480.6,402.5 475.3,408.1 469.9,413.7 464.5,419.2 459.0,424.7 453.5,430.1 448.0,435.6 442.5,441.0 436.9,446.4 431.3,451.7 425.6,457.0 419.6,461.9 412.9,465.9 406.8,470.7 400.7,475.5 394.6,480.2 388.5,484.9 382.3,489.5 376.1,494.0 369.8,498.4 363.5,502.8 357.1,507.1 350.7,511.3 344.2,515.4 337.7,519.5 331.1,523.4 324.4,527.3 317.7,531.1 311.0,534.9 304.3,538.6 297.5,542.2 290.7,545.8 283.9,549.4 277.1,552.9 270.2,556.4 263.3,559.8 256.4,563.2 249.4,566.4 242.4,569.6 235.4,572.7 228.4,575.9 221.4,579.1 214.4,582.3 207.8,586.9 200.4,589.2 192.9,591.3 185.4,593.2 177.9,595.0 170.3,596.6 162.7,597.9 155.0,599.1Z" fill="#d1bb59"/>
<path d="M155.0,599.1 162.7,597.9 170.3,596.6 177.9,595.0 185.4,593.2 192.9,591.3 200.4,589.2 207.8,586.9 215.1,584.5 222.4,581.9 230.4,581.0 237.9,579.0 245.2,576.3 252.5,573.4 259.7,570.5 266.9,567.4 274.0,564.2 281.0,560.9 288.1,557.6 295.0,554.1 301.9,550.4 308.8,546.7 315.6,542.9 322.4,539.1 329.0,535.1 335.7,531.0 342.2,526.7 348.7,522.4 355.2,518.0 361.5,513.5 367.9,509.0 374.1,504.3 380.2,499.4 386.2,494.4 392.0,489.3 397.6,483.8 402.5,477.6 408.4,472.6 414.2,467.4 419.9,462.2 425.6,457.0 431.3,451.7 436.9,446.4 442.5,441.0 448.0,435.6 453.5,430.1 459.0,424.7 464.5,419.2 469.9,413.7 475.3,408.1 480.6,402.5 485.9,396.8 491.2,391.2 496.4,385.4 501.6,379.6 506.7,373.8 511.8,368.0 516.8,362.1 521.9,356.2 526.8,350.3 531.8,344.3 536.7,338.4 541.6,332.3 546.5,326.3 551.3,320.3 556.1,314.2 560.9,308.1 565.7,302.0 570.4,295.9 575.1,289.8 579.8,283.6 584.5,277.4 589.2,271.3 593.8,265.1 598.5,258.9 603.1,252.6 607.7,246.4 612.3,240.2 616.8,233.9 621.4,227.6 625.9,221.4 630.4,215.1 634.9,208.8 639.4,202.4 643.9,196.1 648.3,189.8 652.8,183.4 657.2,177.1 661.6,170.7 666.0,164.3 666.0,164.3 661.6,170.7 657.2,177.1 652.8,183.4 648.3,189.8 643.9,196.1 639.4,202.4 634.9,208.8 630.4,215.1 625.9,221.4 621.4,227.6 616.8,233.9 612.3,240.2 607.7,246.4 603.1,252.6 598.5,258.9 593.8,265.1 589.2,271.3 584.5,277.4 579.8,283.6 575.1,289.8 570.4,295.9 565.7,302.0 560.9,308.1 556.1,314.2 551.3,320.3 546.5,326.3 541.6,332.3 536.7,338.4 531.8,344.3 526.8,350.3 521.9,356.2 516.8,362.1 511.8,368.0 506.7,373.8 501.6,379.6 496.4,385.4 491.2,391.2 485.9,396.8 480.6,402.5 475.3,408.1 469.9,413.7 464.5,419.2 459.0,424.7 453.5,430.1 448.0,435.6 442.5,441.0 436.9,446.4 431.3,451.7 425.6,457.0 419.9,462.2 414.2,467.4 408.4,472.6 402.5,477.6 395.5,481.3 389.1,485.7 382.8,490.1 376.5,494.6 370.2,498.9 363.8,503.3 357.5,507.6 351.0,511.8 344.5,516.0 338.0,520.0 331.4,523.9 324.7,527.8 318.1,531.6 311.4,535.4 304.6,539.2 297.9,542.8 291.0,546.4 284.2,550.0 277.4,553.6 270.6,557.1 263.7,560.6 256.8,564.0 249.8,567.3 242.9,570.6 235.8,573.8 229.0,577.4 222.4,581.9 215.1,584.5 207.8,586.9 200.4,589.2 192.9,591.3 185.4,593.2 177.9,595.0 170.3,596.6 162.7,597.9 155.0,599.1Z" fill="#e3c04a"/>
<path d="M155.0,599.1 162.7,597.9 170.3,596.6 177.9,595.0 185.4,593.2 192.9,591.3 200.4,589.2 207.8,586.9 215.1,584.5 222.4,581.9 229.7,579.2 236.9,576.4 244.0,573.4 251.2,570.4 258.5,567.9 266.1,565.7 273.3,562.8 280.5,559.8 287.5,556.5 294.5,553.1 301.4,549.5 308.3,545.8 315.1,542.1 321.9,538.3 328.6,534.3 335.2,530.2 341.7,526.0 348.2,521.6 354.6,517.2 361.0,512.7 367.3,508.1 373.4,503.4 379.1,498.0 384.5,492.3 390.6,487.5 396.6,482.6 402.5,477.6 408.4,472.6 414.2,467.4 419.9,462.2 425.6,457.0 431.3,451.7 436.9,446.4 442.5,441.0 448.0,435.6 453.5,430.1 459.0,424.7 464.5,419.2 469.9,413.7 475.3,408.1 480.6,402.5 485.9,396.8 491.2,391.2 496.4,385.4 501.6,379.6 506.7,373.8 511.8,368.0 516.8,362.1 521.9,356.2 526.8,350.3 531.8,344.3 536.7,338.4 541.6,332.3 546.5,326.3 551.3,320.3 556.1,314.2 560.9,308.1 565.7,302.0 570.4,295.9 575.1,289.8 579.8,283.6 584.5,277.4 589.2,271.3 593.8,265.1 598.5,258.9 603.1,252.6 607.7,246.4 612.3,240.2 616.8,233.9 621.4,227.6 625.9,221.4 630.4,215.1 634.9,208.8 639.4,202.4 643.9,196.1 648.3,189.8 652.8,183.4 657.2,177.1 661.6,170.7 666.0,164.3 666.0,164.3 661.6,170.7 657.2,177.1 652.8,183.4 648.3,189.8 643.9,196.1 639.4,202.4 634.9,208.8 630.4,215.1 625.9,221.4 621.4,227.6 616.8,233.9 612.3,240.2 607.7,246.4 603.1,252.6 598.5,258.9 593.8,265.1 589.2,271.3 584.5,277.4 579.8,283.6 575.1,289.8 570.4,295.9 565.7,302.0 560.9,308.1 556.1,314.2 551.3,320.3 546.5,326.3 541.6,332.3 536.7,338.4 531.8,344.3 526.8,350.3 521.9,356.2 516.8,362.1 511.8,368.0 506.7,373.8 501.6,379.6 496.4,385.4 491.2,391.2 485.9,396.8 480.6,402.5 475.3,408.1 469.9,413.7 464.5,419.2 459.0,424.7 453.5,430.1 448.0,435.6 442.5,441.0 436.9,446.4 431.3,451.7 425.6,457.0 419.9,462.2 414.2,467.4 408.4,472.6 402.5,477.6 396.6,482.6 390.6,487.5 384.5,492.3 377.6,496.0 370.9,499.9 364.4,504.1 358.0,508.4 351.6,512.6 345.0,516.7 338.5,520.7 331.8,524.7 325.2,528.6 318.5,532.4 311.8,536.3 305.1,540.0 298.4,543.7 291.5,547.4 284.8,551.1 278.0,554.8 271.2,558.5 264.5,562.2 258.0,566.6 251.2,570.4 244.0,573.4 236.9,576.4 229.7,579.2 222.4,581.9 215.1,584.5 207.8,586.9 200.4,589.2 192.9,591.3 185.4,593.2 177.9,595.0 170.3,596.6 162.7,597.9 155.0,599.1Z" fill="#f5c63a"/></g>
<g><path d="M139.6,609.8 146.2,608.3 152.8,606.4 159.4,604.3 165.9,601.9 172.3,599.4 178.6,596.7 184.8,593.8 191.0,590.7 197.0,587.5 202.9,584.2 208.7,580.7 214.5,577.1 220.1,573.3 225.7,569.5 231.1,565.5 236.4,561.3 241.7,557.0 246.8,552.7 251.9,548.3 256.8,543.9 261.8,539.3 266.6,534.8 271.5,530.2 276.4,525.6 281.1,520.9 285.8,516.2 290.4,511.5 295.0,506.6 299.4,501.7 303.8,496.6 308.0,491.6 312.3,486.5 316.5,481.3 320.7,476.3 324.9,471.1 329.1,466.0 333.2,460.8 337.3,455.6 341.2,450.3 345.2,445.0 349.1,439.7 353.0,434.3 356.8,428.9 360.6,423.5 364.4,418.1 368.1,412.7 371.8,407.2 375.5,401.7 379.1,396.2 382.6,390.7 386.2,385.1 389.6,379.5 393.1,373.9 396.5,368.2 399.9,362.6 403.3,356.9 406.7,351.3 410.0,345.6 413.3,339.9 416.6,334.2 419.9,328.5 423.2,322.8 426.5,317.1 429.7,311.4 432.9,305.6 436.1,299.8 439.2,294.1 442.4,288.3 445.5,282.5 448.6,276.7 451.6,270.8 454.6,265.0 457.6,259.2 460.6,253.3 463.6,247.4 466.5,241.5 469.5,235.7 472.4,229.8 475.3,223.9 478.2,218.0 481.1,212.1 484.0,206.2 486.8,200.2 489.7,194.3 492.5,188.4 495.3,182.4 498.0,176.4 500.7,170.4 503.4,164.4 493.6,160.0 490.8,165.9 488.0,171.8 485.2,177.7 482.4,183.6 479.6,189.6 476.9,195.5 474.0,201.4 471.2,207.3 468.4,213.2 465.5,219.1 462.6,224.9 459.7,230.8 456.8,236.6 453.8,242.5 450.8,248.3 447.8,254.1 444.8,259.9 441.8,265.7 438.7,271.5 435.6,277.2 432.6,283.0 429.5,288.8 426.3,294.5 423.2,300.2 420.0,306.0 416.8,311.7 413.6,317.3 410.4,323.0 407.1,328.7 403.8,334.3 400.4,339.9 397.1,345.5 393.7,351.1 390.2,356.6 386.7,362.1 383.2,367.6 379.6,373.1 376.0,378.6 372.4,384.0 368.8,389.4 365.2,394.8 361.5,400.2 357.8,405.6 354.1,411.0 350.3,416.3 346.5,421.6 342.7,426.8 338.8,432.0 334.8,437.2 330.9,442.4 326.9,447.5 322.8,452.6 318.8,457.7 314.7,462.7 310.5,467.7 306.3,472.7 302.0,477.5 297.6,482.3 293.1,487.0 288.6,491.6 284.0,496.2 279.5,500.9 275.0,505.5 270.4,510.0 265.7,514.5 261.0,518.9 256.2,523.2 251.3,527.3 246.3,531.4 241.2,535.3 236.0,539.2 230.8,542.9 225.6,546.5 220.2,550.0 214.9,553.5 209.5,556.9 204.1,560.2 198.6,563.3 193.0,566.3 187.4,569.2 181.7,571.9 176.0,574.5 170.2,576.9 164.4,579.1 158.5,581.2 152.6,583.0 146.6,584.7 140.6,586.4 134.4,587.8 131.6,588.9 129.3,590.6 127.4,592.9 126.2,595.6 125.7,598.5 126.0,601.4 127.0,604.2 128.8,606.6 131.1,608.4 133.7,609.6 136.7,610.1Z" fill="#0da7c3" opacity="0.4"/>
<path d="M139.4,609.0 146.0,607.5 152.6,605.7 159.2,603.5 165.6,601.2 172.0,598.7 178.3,595.9 184.5,593.1 190.6,590.0 196.6,586.8 202.5,583.5 208.3,580.0 214.1,576.4 219.7,572.6 225.2,568.8 230.7,564.8 236.0,560.7 241.2,556.4 246.3,552.1 251.3,547.7 256.3,543.2 261.2,538.7 266.1,534.2 271.0,529.6 275.8,525.0 280.5,520.4 285.2,515.7 289.9,510.9 294.4,506.1 298.8,501.1 303.2,496.1 307.4,491.0 311.7,485.9 315.9,480.8 320.1,475.8 324.3,470.6 328.5,465.5 332.6,460.3 336.6,455.1 340.6,449.8 344.6,444.5 348.5,439.2 352.3,433.8 356.1,428.5 359.9,423.0 363.7,417.6 367.4,412.2 371.0,406.7 374.7,401.2 378.3,395.7 381.8,390.1 385.3,384.5 388.8,378.9 392.2,373.3 395.6,367.7 398.9,362.0 402.3,356.3 405.7,350.7 409.0,345.0 412.3,339.3 415.6,333.6 418.8,327.9 422.1,322.2 425.3,316.4 428.5,310.7 431.7,304.9 434.9,299.2 438.0,293.4 441.1,287.6 444.2,281.8 447.3,276.0 450.3,270.2 453.3,264.3 456.3,258.5 459.3,252.6 462.2,246.7 465.1,240.8 468.1,235.0 471.0,229.1 473.9,223.2 476.8,217.3 479.6,211.4 482.5,205.4 485.3,199.5 488.1,193.6 490.9,187.6 493.7,181.7 496.4,175.7 499.1,169.7 501.7,163.7 495.3,160.7 492.5,166.6 489.6,172.5 486.8,178.4 484.0,184.4 481.2,190.3 478.4,196.2 475.5,202.1 472.7,208.0 469.8,213.9 467.0,219.8 464.1,225.6 461.1,231.5 458.2,237.3 455.2,243.2 452.2,249.0 449.2,254.8 446.1,260.6 443.1,266.4 440.0,272.1 436.9,277.9 433.8,283.7 430.7,289.4 427.5,295.2 424.4,300.9 421.2,306.6 418.0,312.3 414.7,318.0 411.5,323.7 408.2,329.3 404.8,334.9 401.5,340.5 398.1,346.1 394.6,351.7 391.2,357.2 387.6,362.7 384.1,368.2 380.5,373.7 376.9,379.1 373.3,384.5 369.6,390.0 366.0,395.4 362.3,400.8 358.6,406.1 354.8,411.5 351.0,416.8 347.2,422.0 343.3,427.3 339.4,432.5 335.5,437.7 331.5,442.9 327.5,448.0 323.5,453.1 319.4,458.2 315.3,463.2 311.1,468.2 306.9,473.2 302.6,478.0 298.2,482.8 293.7,487.5 289.2,492.2 284.6,496.8 280.1,501.4 275.5,506.0 270.9,510.6 266.3,515.0 261.5,519.4 256.7,523.8 251.8,527.9 246.8,532.0 241.7,535.9 236.5,539.8 231.3,543.5 226.0,547.2 220.7,550.7 215.3,554.2 209.9,557.6 204.5,560.9 199.0,564.0 193.4,567.0 187.8,569.9 182.1,572.6 176.3,575.2 170.5,577.6 164.7,579.9 158.8,581.9 152.8,583.8 146.8,585.5 140.8,587.1 134.6,588.6 132.0,589.6 129.8,591.2 128.1,593.3 126.9,595.8 126.5,598.5 126.8,601.2 127.8,603.8 129.4,606.0 131.5,607.7 134.0,608.9 136.7,609.3Z" fill="#0da7c3"/>
<path d="M139.1,607.9 145.7,606.3 152.3,604.5 158.8,602.4 165.2,600.1 171.6,597.5 177.8,594.8 184.0,592.0 190.1,588.9 196.1,585.8 201.9,582.4 207.7,579.0 213.4,575.4 219.0,571.6 224.6,567.8 230.0,563.8 235.3,559.7 240.4,555.5 245.5,551.1 250.6,546.8 255.6,542.3 260.4,537.8 265.3,533.3 270.2,528.7 275.0,524.2 279.7,519.5 284.4,514.8 289.0,510.1 293.6,505.2 297.9,500.3 302.3,495.3 306.5,490.2 310.8,485.1 315.0,480.0 319.2,475.0 323.4,469.9 327.5,464.7 331.6,459.6 335.7,454.4 339.7,449.1 343.6,443.8 347.5,438.5 351.3,433.1 355.2,427.8 358.9,422.4 362.7,416.9 366.4,411.5 370.0,406.0 373.7,400.5 377.3,395.0 380.8,389.5 384.3,383.9 387.7,378.3 391.2,372.7 394.6,367.0 397.9,361.4 401.3,355.7 404.6,350.0 407.9,344.4 411.2,338.7 414.5,333.0 417.7,327.3 421.0,321.5 424.2,315.8 427.4,310.1 430.6,304.3 433.7,298.5 436.8,292.8 439.9,287.0 443.0,281.2 446.1,275.4 449.1,269.5 452.1,263.7 455.0,257.8 458.0,251.9 460.9,246.1 463.8,240.2 466.7,234.3 469.6,228.4 472.5,222.5 475.4,216.6 478.2,210.7 481.1,204.8 483.9,198.8 486.7,192.9 489.5,186.9 492.2,181.0 494.9,175.0 497.6,169.0 500.2,163.0 496.8,161.4 494.0,167.3 491.1,173.2 488.3,179.1 485.5,185.1 482.6,191.0 479.8,196.9 477.0,202.8 474.1,208.7 471.2,214.6 468.3,220.4 465.4,226.3 462.5,232.2 459.5,238.0 456.5,243.8 453.5,249.6 450.4,255.4 447.4,261.2 444.3,267.0 441.2,272.8 438.1,278.5 435.0,284.3 431.8,290.1 428.7,295.8 425.5,301.5 422.3,307.2 419.1,312.9 415.8,318.6 412.6,324.3 409.3,329.9 405.9,335.5 402.5,341.2 399.1,346.7 395.7,352.3 392.2,357.9 388.7,363.4 385.1,368.9 381.5,374.3 377.9,379.8 374.3,385.2 370.6,390.6 367.0,396.0 363.3,401.4 359.5,406.8 355.8,412.1 352.0,417.5 348.2,422.7 344.3,428.0 340.4,433.2 336.4,438.4 332.5,443.6 328.4,448.7 324.4,453.8 320.3,458.9 316.2,464.0 312.0,469.0 307.8,474.0 303.5,478.8 299.1,483.6 294.6,488.3 290.1,493.0 285.5,497.6 281.0,502.3 276.4,506.9 271.8,511.4 267.1,515.9 262.3,520.3 257.5,524.7 252.6,528.8 247.6,532.9 242.5,536.9 237.3,540.7 232.1,544.5 226.7,548.1 221.4,551.7 216.0,555.2 210.6,558.6 205.1,561.9 199.6,565.0 194.0,568.1 188.3,570.9 182.6,573.7 176.8,576.3 171.0,578.7 165.1,581.0 159.2,583.1 153.2,584.9 147.1,586.7 141.1,588.3 134.9,589.8 132.6,590.6 130.6,592.0 129.1,593.9 128.1,596.1 127.7,598.5 127.9,600.9 128.8,603.2 130.2,605.2 132.1,606.7 134.3,607.7 136.7,608.1Z" fill="#1eafb3"/>
<path d="M139.1,607.6 145.6,606.1 152.2,604.3 158.7,602.2 165.2,599.9 171.5,597.4 177.8,594.7 183.9,591.8 190.0,588.8 196.0,585.6 201.9,582.3 207.7,578.8 213.4,575.2 219.0,571.5 224.5,567.7 229.9,563.7 235.2,559.6 240.4,555.4 245.5,551.0 250.5,546.7 255.5,542.2 260.4,537.7 265.2,533.2 270.1,528.6 274.9,524.1 279.6,519.4 284.2,514.7 288.8,509.9 293.4,505.1 297.8,500.1 302.1,495.1 306.4,490.1 310.6,485.0 314.8,479.9 319.0,474.8 323.2,469.7 327.3,464.5 331.4,459.4 335.4,454.1 339.4,448.9 343.3,443.6 347.2,438.2 351.0,432.9 354.8,427.5 358.5,422.1 362.2,416.6 365.9,411.1 369.5,405.7 373.1,400.1 376.7,394.6 380.2,389.0 383.6,383.4 387.0,377.8 390.4,372.2 393.8,366.5 397.1,360.9 400.4,355.2 403.8,349.5 407.1,343.8 410.3,338.2 413.6,332.4 416.8,326.7 420.0,321.0 423.2,315.2 426.3,309.5 429.5,303.7 432.6,297.9 435.6,292.1 438.7,286.3 441.6,280.4 444.6,274.6 447.4,268.7 450.1,262.6 452.7,256.6 455.7,250.8 458.7,244.9 461.7,239.1 464.6,233.2 467.5,227.4 470.4,221.5 473.3,215.6 476.2,209.7 479.0,203.8 481.8,197.9 484.7,191.9 487.5,186.0 490.2,180.1 493.0,174.1 495.8,168.2 498.5,162.2 498.5,162.2 495.8,168.2 493.0,174.1 490.2,180.1 487.5,186.0 484.7,191.9 481.8,197.9 479.0,203.8 476.2,209.7 473.3,215.6 470.4,221.5 467.5,227.4 464.6,233.2 461.7,239.1 458.7,244.9 455.7,250.8 452.7,256.6 449.4,262.3 445.9,267.9 442.7,273.6 439.5,279.3 436.3,285.0 433.1,290.7 429.8,296.4 426.6,302.1 423.4,307.8 420.1,313.5 416.8,319.2 413.5,324.8 410.2,330.5 406.8,336.1 403.4,341.7 400.0,347.3 396.5,352.8 393.0,358.3 389.4,363.8 385.8,369.3 382.2,374.8 378.6,380.2 374.9,385.6 371.2,391.0 367.5,396.4 363.8,401.8 360.0,407.1 356.2,412.5 352.4,417.7 348.5,423.0 344.6,428.3 340.7,433.5 336.8,438.7 332.8,443.8 328.7,449.0 324.7,454.1 320.6,459.1 316.4,464.2 312.3,469.2 308.0,474.1 303.7,479.0 299.2,483.8 294.8,488.5 290.2,493.1 285.7,497.8 281.1,502.4 276.5,507.0 271.9,511.6 267.2,516.0 262.4,520.4 257.6,524.8 252.7,528.9 247.6,533.0 242.5,537.0 237.4,540.8 232.1,544.6 226.8,548.2 221.4,551.8 216.1,555.3 210.7,558.7 205.2,562.0 199.6,565.1 194.0,568.2 188.4,571.1 182.7,573.8 176.9,576.4 171.0,578.9 165.2,581.1 159.2,583.2 153.2,585.1 147.2,586.8 141.1,588.5 134.9,590.0 132.7,590.8 130.8,592.2 129.3,594.0 128.3,596.2 127.9,598.5 128.2,600.9 129.0,603.1 130.4,605.0 132.2,606.5 134.4,607.5 136.7,607.9Z" fill="#2eb7a4"/>
<path d="M139.0,607.2 145.5,605.7 152.1,603.9 158.6,601.9 165.1,599.6 171.4,597.1 177.6,594.4 183.8,591.6 189.9,588.6 195.9,585.4 201.7,582.1 207.5,578.6 213.2,575.0 218.8,571.3 224.3,567.5 229.8,563.5 235.0,559.4 240.2,555.1 245.3,550.8 250.3,546.5 255.3,542.0 260.2,537.5 265.0,532.9 269.8,528.4 274.6,523.8 279.3,519.1 283.9,514.4 288.5,509.6 293.0,504.7 297.4,499.8 301.7,494.7 305.9,489.7 310.1,484.5 314.2,479.4 318.4,474.3 322.5,469.2 326.6,464.0 330.6,458.8 334.6,453.5 338.5,448.2 342.4,442.9 346.2,437.5 349.9,432.1 353.6,426.6 357.2,421.1 360.6,415.5 364.1,409.9 366.8,403.8 370.3,398.3 373.9,392.8 377.5,387.3 381.1,381.8 384.6,376.3 388.1,370.8 391.6,365.2 395.1,359.6 398.5,354.0 401.9,348.4 405.2,342.8 408.6,337.1 411.9,331.4 415.1,325.8 418.4,320.1 421.6,314.4 424.9,308.7 428.0,302.9 431.2,297.2 434.3,291.4 437.5,285.6 440.6,279.9 443.6,274.1 446.7,268.3 449.7,262.5 452.7,256.6 455.7,250.8 458.7,244.9 461.7,239.1 464.6,233.2 467.5,227.4 470.4,221.5 473.3,215.6 476.2,209.7 479.0,203.8 481.8,197.9 484.7,191.9 487.5,186.0 490.2,180.1 493.0,174.1 495.8,168.2 498.5,162.2 498.5,162.2 495.8,168.2 493.0,174.1 490.2,180.1 487.5,186.0 484.7,191.9 481.8,197.9 479.0,203.8 476.2,209.7 473.3,215.6 470.4,221.5 467.5,227.4 464.6,233.2 461.7,239.1 458.7,244.9 455.7,250.8 452.7,256.6 449.7,262.5 446.7,268.3 443.6,274.1 440.6,279.9 437.5,285.6 434.3,291.4 431.2,297.2 428.0,302.9 424.9,308.7 421.6,314.4 418.4,320.1 415.1,325.8 411.9,331.4 408.6,337.1 405.2,342.8 401.9,348.4 398.5,354.0 395.1,359.6 391.6,365.2 388.1,370.8 384.6,376.3 381.1,381.8 377.5,387.3 373.9,392.8 370.3,398.3 366.5,403.6 361.9,408.4 357.8,413.6 353.8,418.7 349.7,423.9 345.7,429.0 341.7,434.2 337.7,439.4 333.6,444.5 329.5,449.6 325.4,454.6 321.2,459.7 317.1,464.7 312.8,469.7 308.6,474.6 304.2,479.4 299.7,484.2 295.2,488.9 290.6,493.5 286.0,498.1 281.5,502.8 276.8,507.3 272.2,511.8 267.4,516.3 262.7,520.7 257.8,525.0 252.9,529.2 247.8,533.2 242.7,537.2 237.5,541.0 232.3,544.8 227.0,548.4 221.6,552.0 216.2,555.5 210.8,558.9 205.3,562.2 199.8,565.4 194.2,568.4 188.5,571.3 182.8,574.1 177.0,576.7 171.2,579.2 165.3,581.4 159.3,583.6 153.3,585.5 147.3,587.2 141.3,588.9 135.0,590.5 132.9,591.2 131.1,592.6 129.7,594.3 128.8,596.3 128.4,598.6 128.6,600.8 129.4,602.9 130.7,604.7 132.5,606.1 134.5,607.0 136.7,607.4Z" fill="#52ba91"/>
<path d="M138.8,606.6 145.4,605.2 152.0,603.5 158.5,601.5 164.9,599.2 171.3,596.7 177.5,594.1 183.7,591.3 189.7,588.3 195.7,585.1 201.6,581.8 207.4,578.4 213.1,574.8 218.7,571.1 224.2,567.2 229.6,563.3 234.9,559.2 240.0,554.9 245.1,550.6 250.2,546.2 255.1,541.8 260.0,537.3 264.8,532.7 269.6,528.1 274.3,523.5 279.0,518.8 283.6,514.0 288.0,509.1 292.5,504.3 296.8,499.3 301.1,494.2 305.2,489.1 309.3,483.9 313.3,478.6 317.4,473.4 321.3,468.1 324.9,462.6 328.0,456.7 332.1,451.5 336.1,446.3 340.0,441.1 343.9,435.9 347.8,430.6 351.7,425.2 355.5,419.9 359.2,414.5 363.0,409.1 366.7,403.7 370.3,398.3 373.9,392.8 377.5,387.3 381.1,381.8 384.6,376.3 388.1,370.8 391.6,365.2 395.1,359.6 398.5,354.0 401.9,348.4 405.2,342.8 408.6,337.1 411.9,331.4 415.1,325.8 418.4,320.1 421.6,314.4 424.9,308.7 428.0,302.9 431.2,297.2 434.3,291.4 437.5,285.6 440.6,279.9 443.6,274.1 446.7,268.3 449.7,262.5 452.7,256.6 455.7,250.8 458.7,244.9 461.7,239.1 464.6,233.2 467.5,227.4 470.4,221.5 473.3,215.6 476.2,209.7 479.0,203.8 481.8,197.9 484.7,191.9 487.5,186.0 490.2,180.1 493.0,174.1 495.8,168.2 498.5,162.2 498.5,162.2 495.8,168.2 493.0,174.1 490.2,180.1 487.5,186.0 484.7,191.9 481.8,197.9 479.0,203.8 476.2,209.7 473.3,215.6 470.4,221.5 467.5,227.4 464.6,233.2 461.7,239.1 458.7,244.9 455.7,250.8 452.7,256.6 449.7,262.5 446.7,268.3 443.6,274.1 440.6,279.9 437.5,285.6 434.3,291.4 431.2,297.2 428.0,302.9 424.9,308.7 421.6,314.4 418.4,320.1 415.1,325.8 411.9,331.4 408.6,337.1 405.2,342.8 401.9,348.4 398.5,354.0 395.1,359.6 391.6,365.2 388.1,370.8 384.6,376.3 381.1,381.8 377.5,387.3 373.9,392.8 370.3,398.3 366.7,403.7 363.0,409.1 359.2,414.5 355.5,419.9 351.7,425.2 347.8,430.6 343.9,435.9 340.0,441.1 336.1,446.3 332.1,451.5 328.0,456.7 322.9,461.0 318.3,465.7 313.9,470.5 309.5,475.4 305.0,480.1 300.4,484.8 295.8,489.4 291.2,494.0 286.5,498.6 281.9,503.2 277.2,507.7 272.5,512.2 267.7,516.6 262.9,520.9 258.1,525.2 253.1,529.4 248.0,533.4 242.9,537.4 237.7,541.3 232.5,545.0 227.1,548.7 221.8,552.2 216.4,555.7 211.0,559.1 205.5,562.4 199.9,565.6 194.3,568.7 188.7,571.6 182.9,574.4 177.1,577.0 171.3,579.5 165.4,581.8 159.5,583.9 153.5,585.9 147.4,587.7 141.4,589.4 135.2,591.0 133.2,591.7 131.5,593.0 130.2,594.6 129.3,596.5 129.0,598.6 129.2,600.7 129.9,602.6 131.1,604.3 132.8,605.6 134.7,606.5 136.8,606.8Z" fill="#74bd80"/>
<path d="M138.7,606.0 145.3,604.7 151.9,603.0 158.4,601.0 164.8,598.8 171.1,596.3 177.4,593.7 183.5,590.9 189.6,588.0 195.6,584.8 201.4,581.5 207.2,578.1 212.9,574.5 218.5,570.8 224.0,567.0 229.4,563.0 234.7,558.9 239.8,554.7 244.9,550.4 249.9,546.0 254.9,541.5 259.7,537.0 264.5,532.4 269.3,527.8 274.0,523.1 278.6,518.4 283.1,513.5 287.4,508.5 291.8,503.6 295.9,498.4 299.9,493.1 302.8,486.9 307.1,482.0 311.4,477.0 315.6,472.0 319.8,466.9 323.9,461.8 328.0,456.7 332.1,451.5 336.1,446.3 340.0,441.1 343.9,435.9 347.8,430.6 351.7,425.2 355.5,419.9 359.2,414.5 363.0,409.1 366.7,403.7 370.3,398.3 373.9,392.8 377.5,387.3 381.1,381.8 384.6,376.3 388.1,370.8 391.6,365.2 395.1,359.6 398.5,354.0 401.9,348.4 405.2,342.8 408.6,337.1 411.9,331.4 415.1,325.8 418.4,320.1 421.6,314.4 424.9,308.7 428.0,302.9 431.2,297.2 434.3,291.4 437.5,285.6 440.6,279.9 443.6,274.1 446.7,268.3 449.7,262.5 452.7,256.6 455.7,250.8 458.7,244.9 461.7,239.1 464.6,233.2 467.5,227.4 470.4,221.5 473.3,215.6 476.2,209.7 479.0,203.8 481.8,197.9 484.7,191.9 487.5,186.0 490.2,180.1 493.0,174.1 495.8,168.2 498.5,162.2 498.5,162.2 495.8,168.2 493.0,174.1 490.2,180.1 487.5,186.0 484.7,191.9 481.8,197.9 479.0,203.8 476.2,209.7 473.3,215.6 470.4,221.5 467.5,227.4 464.6,233.2 461.7,239.1 458.7,244.9 455.7,250.8 452.7,256.6 449.7,262.5 446.7,268.3 443.6,274.1 440.6,279.9 437.5,285.6 434.3,291.4 431.2,297.2 428.0,302.9 424.9,308.7 421.6,314.4 418.4,320.1 415.1,325.8 411.9,331.4 408.6,337.1 405.2,342.8 401.9,348.4 398.5,354.0 395.1,359.6 391.6,365.2 388.1,370.8 384.6,376.3 381.1,381.8 377.5,387.3 373.9,392.8 370.3,398.3 366.7,403.7 363.0,409.1 359.2,414.5 355.5,419.9 351.7,425.2 347.8,430.6 343.9,435.9 340.0,441.1 336.1,446.3 332.1,451.5 328.0,456.7 323.9,461.8 319.8,466.9 315.6,472.0 311.4,477.0 307.1,482.0 302.8,486.9 297.0,490.5 292.1,494.9 287.3,499.3 282.5,503.8 277.7,508.2 272.9,512.6 268.1,516.9 263.2,521.3 258.3,525.5 253.3,529.7 248.2,533.7 243.1,537.6 237.9,541.5 232.6,545.3 227.3,548.9 221.9,552.5 216.6,556.0 211.1,559.4 205.6,562.7 200.1,565.9 194.5,569.0 188.8,571.9 183.1,574.7 177.3,577.3 171.5,579.8 165.6,582.2 159.6,584.3 153.6,586.3 147.6,588.2 141.5,589.9 135.3,591.6 133.5,592.3 131.9,593.4 130.7,594.9 129.9,596.7 129.6,598.6 129.8,600.5 130.5,602.3 131.6,603.9 133.1,605.1 134.9,605.9 136.8,606.2Z" fill="#96be71"/>
<path d="M138.5,605.3 145.1,604.1 151.7,602.5 158.2,600.5 164.6,598.3 170.9,595.9 177.2,593.3 183.3,590.6 189.4,587.6 195.4,584.5 201.3,581.2 207.1,577.8 212.7,574.2 218.3,570.5 223.8,566.7 229.2,562.8 234.5,558.6 239.6,554.4 244.7,550.1 249.7,545.7 254.6,541.2 259.5,536.7 264.2,532.1 268.9,527.4 273.6,522.7 278.0,517.8 282.3,512.7 285.3,506.5 289.5,501.4 294.0,496.6 298.4,491.8 302.8,486.9 307.1,482.0 311.4,477.0 315.6,472.0 319.8,466.9 323.9,461.8 328.0,456.7 332.1,451.5 336.1,446.3 340.0,441.1 343.9,435.9 347.8,430.6 351.7,425.2 355.5,419.9 359.2,414.5 363.0,409.1 366.7,403.7 370.3,398.3 373.9,392.8 377.5,387.3 381.1,381.8 384.6,376.3 388.1,370.8 391.6,365.2 395.1,359.6 398.5,354.0 401.9,348.4 405.2,342.8 408.6,337.1 411.9,331.4 415.1,325.8 418.4,320.1 421.6,314.4 424.9,308.7 428.0,302.9 431.2,297.2 434.3,291.4 437.5,285.6 440.6,279.9 443.6,274.1 446.7,268.3 449.7,262.5 452.7,256.6 455.7,250.8 458.7,244.9 461.7,239.1 464.6,233.2 467.5,227.4 470.4,221.5 473.3,215.6 476.2,209.7 479.0,203.8 481.8,197.9 484.7,191.9 487.5,186.0 490.2,180.1 493.0,174.1 495.8,168.2 498.5,162.2 498.5,162.2 495.8,168.2 493.0,174.1 490.2,180.1 487.5,186.0 484.7,191.9 481.8,197.9 479.0,203.8 476.2,209.7 473.3,215.6 470.4,221.5 467.5,227.4 464.6,233.2 461.7,239.1 458.7,244.9 455.7,250.8 452.7,256.6 449.7,262.5 446.7,268.3 443.6,274.1 440.6,279.9 437.5,285.6 434.3,291.4 431.2,297.2 428.0,302.9 424.9,308.7 421.6,314.4 418.4,320.1 415.1,325.8 411.9,331.4 408.6,337.1 405.2,342.8 401.9,348.4 398.5,354.0 395.1,359.6 391.6,365.2 388.1,370.8 384.6,376.3 381.1,381.8 377.5,387.3 373.9,392.8 370.3,398.3 366.7,403.7 363.0,409.1 359.2,414.5 355.5,419.9 351.7,425.2 347.8,430.6 343.9,435.9 340.0,441.1 336.1,446.3 332.1,451.5 328.0,456.7 323.9,461.8 319.8,466.9 315.6,472.0 311.4,477.0 307.1,482.0 302.8,486.9 298.4,491.8 294.0,496.6 289.5,501.4 284.7,505.9 278.5,509.0 273.5,513.1 268.5,517.4 263.6,521.6 258.6,525.9 253.6,530.0 248.5,534.0 243.3,537.9 238.1,541.8 232.9,545.5 227.5,549.2 222.1,552.7 216.8,556.3 211.3,559.7 205.8,563.0 200.3,566.2 194.7,569.3 189.0,572.2 183.3,575.0 177.5,577.7 171.6,580.2 165.7,582.6 159.8,584.8 153.8,586.8 147.7,588.7 141.7,590.6 135.5,592.4 133.9,593.0 132.5,594.0 131.4,595.3 130.7,596.9 130.4,598.6 130.6,600.3 131.2,601.9 132.2,603.3 133.5,604.4 135.1,605.2 136.8,605.4Z" fill="#b4bd65"/>
<path d="M138.3,604.3 144.9,603.3 151.5,601.8 158.0,599.9 164.4,597.8 170.8,595.4 177.0,592.9 183.2,590.1 189.2,587.2 195.2,584.1 201.1,580.9 206.9,577.5 212.5,573.9 218.1,570.2 223.6,566.4 229.0,562.4 234.2,558.3 239.4,554.1 244.4,549.8 249.4,545.4 254.3,540.9 259.1,536.3 263.8,531.6 268.4,526.9 272.9,522.0 276.6,516.4 280.4,510.9 285.0,506.2 289.5,501.4 294.0,496.6 298.4,491.8 302.8,486.9 307.1,482.0 311.4,477.0 315.6,472.0 319.8,466.9 323.9,461.8 328.0,456.7 332.1,451.5 336.1,446.3 340.0,441.1 343.9,435.9 347.8,430.6 351.7,425.2 355.5,419.9 359.2,414.5 363.0,409.1 366.7,403.7 370.3,398.3 373.9,392.8 377.5,387.3 381.1,381.8 384.6,376.3 388.1,370.8 391.6,365.2 395.1,359.6 398.5,354.0 401.9,348.4 405.2,342.8 408.6,337.1 411.9,331.4 415.1,325.8 418.4,320.1 421.6,314.4 424.9,308.7 428.0,302.9 431.2,297.2 434.3,291.4 437.5,285.6 440.6,279.9 443.6,274.1 446.7,268.3 449.7,262.5 452.7,256.6 455.7,250.8 458.7,244.9 461.7,239.1 464.6,233.2 467.5,227.4 470.4,221.5 473.3,215.6 476.2,209.7 479.0,203.8 481.8,197.9 484.7,191.9 487.5,186.0 490.2,180.1 493.0,174.1 495.8,168.2 498.5,162.2 498.5,162.2 495.8,168.2 493.0,174.1 490.2,180.1 487.5,186.0 484.7,191.9 481.8,197.9 479.0,203.8 476.2,209.7 473.3,215.6 470.4,221.5 467.5,227.4 464.6,233.2 461.7,239.1 458.7,244.9 455.7,250.8 452.7,256.6 449.7,262.5 446.7,268.3 443.6,274.1 440.6,279.9 437.5,285.6 434.3,291.4 431.2,297.2 428.0,302.9 424.9,308.7 421.6,314.4 418.4,320.1 415.1,325.8 411.9,331.4 408.6,337.1 405.2,342.8 401.9,348.4 398.5,354.0 395.1,359.6 391.6,365.2 388.1,370.8 384.6,376.3 381.1,381.8 377.5,387.3 373.9,392.8 370.3,398.3 366.7,403.7 363.0,409.1 359.2,414.5 355.5,419.9 351.7,425.2 347.8,430.6 343.9,435.9 340.0,441.1 336.1,446.3 332.1,451.5 328.0,456.7 323.9,461.8 319.8,466.9 315.6,472.0 311.4,477.0 307.1,482.0 302.8,486.9 298.4,491.8 294.0,496.6 289.5,501.4 285.0,506.2 280.4,510.9 274.8,514.6 269.2,518.1 264.1,522.2 259.0,526.3 253.9,530.4 248.8,534.3 243.6,538.3 238.4,542.1 233.1,545.9 227.8,549.5 222.4,553.1 217.0,556.6 211.5,560.0 206.0,563.3 200.5,566.5 194.8,569.6 189.2,572.6 183.4,575.4 177.7,578.1 171.8,580.7 165.9,583.1 160.0,585.3 154.0,587.4 147.9,589.4 141.9,591.3 135.7,593.4 134.3,593.9 133.2,594.7 132.2,595.9 131.6,597.2 131.4,598.6 131.5,600.1 132.1,601.5 132.9,602.7 134.1,603.6 135.4,604.2 136.8,604.4Z" fill="#d1bb59"/>
<path d="M137.9,602.7 144.6,602.2 151.2,600.9 157.8,599.2 164.2,597.2 170.5,594.9 176.8,592.3 182.9,589.7 189.0,586.8 195.0,583.7 200.8,580.5 206.6,577.1 212.3,573.6 217.9,569.9 223.4,566.0 228.7,562.1 234.0,557.9 239.1,553.7 244.1,549.4 249.1,545.0 254.0,540.5 258.7,535.8 263.2,531.0 267.4,525.7 271.0,520.0 275.7,515.5 280.4,510.9 285.0,506.2 289.5,501.4 294.0,496.6 298.4,491.8 302.8,486.9 307.1,482.0 311.4,477.0 315.6,472.0 319.8,466.9 323.9,461.8 328.0,456.7 332.1,451.5 336.1,446.3 340.0,441.1 343.9,435.9 347.8,430.6 351.7,425.2 355.5,419.9 359.2,414.5 363.0,409.1 366.7,403.7 370.3,398.3 373.9,392.8 377.5,387.3 381.1,381.8 384.6,376.3 388.1,370.8 391.6,365.2 395.1,359.6 398.5,354.0 401.9,348.4 405.2,342.8 408.6,337.1 411.9,331.4 415.1,325.8 418.4,320.1 421.6,314.4 424.9,308.7 428.0,302.9 431.2,297.2 434.3,291.4 437.5,285.6 440.6,279.9 443.6,274.1 446.7,268.3 449.7,262.5 452.7,256.6 455.7,250.8 458.7,244.9 461.7,239.1 464.6,233.2 467.5,227.4 470.4,221.5 473.3,215.6 476.2,209.7 479.0,203.8 481.8,197.9 484.7,191.9 487.5,186.0 490.2,180.1 493.0,174.1 495.8,168.2 498.5,162.2 498.5,162.2 495.8,168.2 493.0,174.1 490.2,180.1 487.5,186.0 484.7,191.9 481.8,197.9 479.0,203.8 476.2,209.7 473.3,215.6 470.4,221.5 467.5,227.4 464.6,233.2 461.7,239.1 458.7,244.9 455.7,250.8 452.7,256.6 449.7,262.5 446.7,268.3 443.6,274.1 440.6,279.9 437.5,285.6 434.3,291.4 431.2,297.2 428.0,302.9 424.9,308.7 421.6,314.4 418.4,320.1 415.1,325.8 411.9,331.4 408.6,337.1 405.2,342.8 401.9,348.4 398.5,354.0 395.1,359.6 391.6,365.2 388.1,370.8 384.6,376.3 381.1,381.8 377.5,387.3 373.9,392.8 370.3,398.3 366.7,403.7 363.0,409.1 359.2,414.5 355.5,419.9 351.7,425.2 347.8,430.6 343.9,435.9 340.0,441.1 336.1,446.3 332.1,451.5 328.0,456.7 323.9,461.8 319.8,466.9 315.6,472.0 311.4,477.0 307.1,482.0 302.8,486.9 298.4,491.8 294.0,496.6 289.5,501.4 285.0,506.2 280.4,510.9 275.7,515.5 271.0,520.0 265.1,523.3 259.6,527.0 254.4,530.9 249.1,534.8 243.9,538.7 238.7,542.5 233.4,546.2 228.0,549.9 222.6,553.4 217.2,556.9 211.7,560.3 206.2,563.7 200.7,566.9 195.1,570.0 189.4,573.0 183.7,575.9 177.9,578.6 172.0,581.2 166.1,583.7 160.2,586.0 154.2,588.2 148.2,590.3 142.1,592.4 136.1,595.0 135.1,595.3 134.3,595.9 133.6,596.7 133.2,597.7 133.1,598.7 133.2,599.7 133.5,600.7 134.1,601.5 134.9,602.2 135.9,602.6 136.9,602.8Z" fill="#e3c04a"/>
<path d="M137.0,598.8 144.1,600.2 150.9,599.6 157.4,598.2 163.9,596.3 170.2,594.1 176.5,591.7 182.7,589.1 188.7,586.2 194.7,583.2 200.6,580.0 206.4,576.6 212.1,573.1 217.6,569.5 223.1,565.6 228.4,561.6 233.6,557.5 238.7,553.2 243.7,548.9 248.6,544.4 253.4,539.8 257.8,534.8 261.4,529.0 266.3,524.5 271.0,520.0 275.7,515.5 280.4,510.9 285.0,506.2 289.5,501.4 294.0,496.6 298.4,491.8 302.8,486.9 307.1,482.0 311.4,477.0 315.6,472.0 319.8,466.9 323.9,461.8 328.0,456.7 332.1,451.5 336.1,446.3 340.0,441.1 343.9,435.9 347.8,430.6 351.7,425.2 355.5,419.9 359.2,414.5 363.0,409.1 366.7,403.7 370.3,398.3 373.9,392.8 377.5,387.3 381.1,381.8 384.6,376.3 388.1,370.8 391.6,365.2 395.1,359.6 398.5,354.0 401.9,348.4 405.2,342.8 408.6,337.1 411.9,331.4 415.1,325.8 418.4,320.1 421.6,314.4 424.9,308.7 428.0,302.9 431.2,297.2 434.3,291.4 437.5,285.6 440.6,279.9 443.6,274.1 446.7,268.3 449.7,262.5 452.7,256.6 455.7,250.8 458.7,244.9 461.7,239.1 464.6,233.2 467.5,227.4 470.4,221.5 473.3,215.6 476.2,209.7 479.0,203.8 481.8,197.9 484.7,191.9 487.5,186.0 490.2,180.1 493.0,174.1 495.8,168.2 498.5,162.2 498.5,162.2 495.8,168.2 493.0,174.1 490.2,180.1 487.5,186.0 484.7,191.9 481.8,197.9 479.0,203.8 476.2,209.7 473.3,215.6 470.4,221.5 467.5,227.4 464.6,233.2 461.7,239.1 458.7,244.9 455.7,250.8 452.7,256.6 449.7,262.5 446.7,268.3 443.6,274.1 440.6,279.9 437.5,285.6 434.3,291.4 431.2,297.2 428.0,302.9 424.9,308.7 421.6,314.4 418.4,320.1 415.1,325.8 411.9,331.4 408.6,337.1 405.2,342.8 401.9,348.4 398.5,354.0 395.1,359.6 391.6,365.2 388.1,370.8 384.6,376.3 381.1,381.8 377.5,387.3 373.9,392.8 370.3,398.3 366.7,403.7 363.0,409.1 359.2,414.5 355.5,419.9 351.7,425.2 347.8,430.6 343.9,435.9 340.0,441.1 336.1,446.3 332.1,451.5 328.0,456.7 323.9,461.8 319.8,466.9 315.6,472.0 311.4,477.0 307.1,482.0 302.8,486.9 298.4,491.8 294.0,496.6 289.5,501.4 285.0,506.2 280.4,510.9 275.7,515.5 271.0,520.0 266.3,524.5 261.4,529.0 255.3,531.9 249.7,535.4 244.4,539.2 239.1,543.0 233.7,546.7 228.4,550.3 222.9,553.9 217.5,557.4 212.0,560.8 206.5,564.1 200.9,567.4 195.3,570.5 189.7,573.5 183.9,576.4 178.2,579.2 172.3,581.9 166.4,584.4 160.5,586.8 154.5,589.2 148.6,591.6 142.7,594.4 137.0,598.8Z" fill="#f5c63a"/>
<path d="M137.0,598.8 143.4,597.3 149.7,595.6 156.8,596.1 163.4,595.0 169.8,593.0 176.1,590.8 182.3,588.3 188.4,585.5 194.4,582.5 200.2,579.4 206.0,576.1 211.7,572.6 217.3,568.9 222.7,565.0 228.0,561.0 233.2,556.9 238.2,552.6 243.1,548.1 247.8,543.3 251.6,537.6 256.5,533.3 261.4,529.0 266.3,524.5 271.0,520.0 275.7,515.5 280.4,510.9 285.0,506.2 289.5,501.4 294.0,496.6 298.4,491.8 302.8,486.9 307.1,482.0 311.4,477.0 315.6,472.0 319.8,466.9 323.9,461.8 328.0,456.7 332.1,451.5 336.1,446.3 340.0,441.1 343.9,435.9 347.8,430.6 351.7,425.2 355.5,419.9 359.2,414.5 363.0,409.1 366.7,403.7 370.3,398.3 373.9,392.8 377.5,387.3 381.1,381.8 384.6,376.3 388.1,370.8 391.6,365.2 395.1,359.6 398.5,354.0 401.9,348.4 405.2,342.8 408.6,337.1 411.9,331.4 415.1,325.8 418.4,320.1 421.6,314.4 424.9,308.7 428.0,302.9 431.2,297.2 434.3,291.4 437.5,285.6 440.6,279.9 443.6,274.1 446.7,268.3 449.7,262.5 452.7,256.6 455.7,250.8 458.7,244.9 461.7,239.1 464.6,233.2 467.5,227.4 470.4,221.5 473.3,215.6 476.2,209.7 479.0,203.8 481.8,197.9 484.7,191.9 487.5,186.0 490.2,180.1 493.0,174.1 495.8,168.2 498.5,162.2 498.5,162.2 495.8,168.2 493.0,174.1 490.2,180.1 487.5,186.0 484.7,191.9 481.8,197.9 479.0,203.8 476.2,209.7 473.3,215.6 470.4,221.5 467.5,227.4 464.6,233.2 461.7,239.1 458.7,244.9 455.7,250.8 452.7,256.6 449.7,262.5 446.7,268.3 443.6,274.1 440.6,279.9 437.5,285.6 434.3,291.4 431.2,297.2 428.0,302.9 424.9,308.7 421.6,314.4 418.4,320.1 415.1,325.8 411.9,331.4 408.6,337.1 405.2,342.8 401.9,348.4 398.5,354.0 395.1,359.6 391.6,365.2 388.1,370.8 384.6,376.3 381.1,381.8 377.5,387.3 373.9,392.8 370.3,398.3 366.7,403.7 363.0,409.1 359.2,414.5 355.5,419.9 351.7,425.2 347.8,430.6 343.9,435.9 340.0,441.1 336.1,446.3 332.1,451.5 328.0,456.7 323.9,461.8 319.8,466.9 315.6,472.0 311.4,477.0 307.1,482.0 302.8,486.9 298.4,491.8 294.0,496.6 289.5,501.4 285.0,506.2 280.4,510.9 275.7,515.5 271.0,520.0 266.3,524.5 261.4,529.0 256.5,533.3 251.6,537.6 245.3,540.3 239.7,543.8 234.3,547.4 228.8,551.0 223.4,554.5 217.9,557.9 212.3,561.3 206.8,564.6 201.3,567.9 195.7,571.1 190.0,574.2 184.3,577.1 178.5,580.0 172.7,582.8 166.9,585.5 161.0,588.1 155.2,591.2 149.7,595.6 143.4,597.3 137.0,598.8Z" fill="#fdd32a"/>
<path d="M137.0,598.8 143.4,597.3 149.7,595.6 156.0,593.7 162.2,591.6 168.3,589.3 175.3,589.0 181.7,587.0 187.9,584.5 193.9,581.6 199.8,578.5 205.6,575.3 211.3,571.9 216.8,568.2 222.2,564.2 227.3,560.1 232.3,555.7 236.7,550.5 241.4,545.9 246.5,541.8 251.6,537.6 256.5,533.3 261.4,529.0 266.3,524.5 271.0,520.0 275.7,515.5 280.4,510.9 285.0,506.2 289.5,501.4 294.0,496.6 298.4,491.8 302.8,486.9 307.1,482.0 311.4,477.0 315.6,472.0 319.8,466.9 323.9,461.8 328.0,456.7 332.1,451.5 336.1,446.3 340.0,441.1 343.9,435.9 347.8,430.6 351.7,425.2 355.5,419.9 359.2,414.5 363.0,409.1 366.7,403.7 370.3,398.3 373.9,392.8 377.5,387.3 381.1,381.8 384.6,376.3 388.1,370.8 391.6,365.2 395.1,359.6 398.5,354.0 401.9,348.4 405.2,342.8 408.6,337.1 411.9,331.4 415.1,325.8 418.4,320.1 421.6,314.4 424.9,308.7 428.0,302.9 431.2,297.2 434.3,291.4 437.5,285.6 440.6,279.9 443.6,274.1 446.7,268.3 449.7,262.5 452.7,256.6 455.7,250.8 458.7,244.9 461.7,239.1 464.6,233.2 467.5,227.4 470.4,221.5 473.3,215.6 476.2,209.7 479.0,203.8 481.8,197.9 484.7,191.9 487.5,186.0 490.2,180.1 493.0,174.1 495.8,168.2 498.5,162.2 498.5,162.2 495.8,168.2 493.0,174.1 490.2,180.1 487.5,186.0 484.7,191.9 481.8,197.9 479.0,203.8 476.2,209.7 473.3,215.6 470.4,221.5 467.5,227.4 464.6,233.2 461.7,239.1 458.7,244.9 455.7,250.8 452.7,256.6 449.7,262.5 446.7,268.3 443.6,274.1 440.6,279.9 437.5,285.6 434.3,291.4 431.2,297.2 428.0,302.9 424.9,308.7 421.6,314.4 418.4,320.1 415.1,325.8 411.9,331.4 408.6,337.1 405.2,342.8 401.9,348.4 398.5,354.0 395.1,359.6 391.6,365.2 388.1,370.8 384.6,376.3 381.1,381.8 377.5,387.3 373.9,392.8 370.3,398.3 366.7,403.7 363.0,409.1 359.2,414.5 355.5,419.9 351.7,425.2 347.8,430.6 343.9,435.9 340.0,441.1 336.1,446.3 332.1,451.5 328.0,456.7 323.9,461.8 319.8,466.9 315.6,472.0 311.4,477.0 307.1,482.0 302.8,486.9 298.4,491.8 294.0,496.6 289.5,501.4 285.0,506.2 280.4,510.9 275.7,515.5 271.0,520.0 266.3,524.5 261.4,529.0 256.5,533.3 251.6,537.6 246.5,541.8 241.4,545.9 235.8,549.4 229.7,552.1 224.0,555.4 218.4,558.7 212.8,562.0 207.3,565.3 201.7,568.7 196.1,572.0 190.5,575.1 184.8,578.2 179.1,581.3 173.5,584.6 168.3,589.3 162.2,591.6 156.0,593.7 149.7,595.6 143.4,597.3 137.0,598.8Z" fill="#fbe81c"/>
<path d="M137.0,598.8 143.4,597.3 149.7,595.6 156.0,593.7 162.2,591.6 168.3,589.3 174.4,586.8 180.4,584.1 186.3,581.3 192.2,578.4 198.0,575.2 204.6,573.5 210.4,570.5 215.8,566.7 220.3,561.5 225.7,557.7 231.0,553.9 236.2,550.0 241.4,545.9 246.5,541.8 251.6,537.6 256.5,533.3 261.4,529.0 266.3,524.5 271.0,520.0 275.7,515.5 280.4,510.9 285.0,506.2 289.5,501.4 294.0,496.6 298.4,491.8 302.8,486.9 307.1,482.0 311.4,477.0 315.6,472.0 319.8,466.9 323.9,461.8 328.0,456.7 332.1,451.5 336.1,446.3 340.0,441.1 343.9,435.9 347.8,430.6 351.7,425.2 355.5,419.9 359.2,414.5 363.0,409.1 366.7,403.7 370.3,398.3 373.9,392.8 377.5,387.3 381.1,381.8 384.6,376.3 388.1,370.8 391.6,365.2 395.1,359.6 398.5,354.0 401.9,348.4 405.2,342.8 408.6,337.1 411.9,331.4 415.1,325.8 418.4,320.1 421.6,314.4 424.9,308.7 428.0,302.9 431.2,297.2 434.3,291.4 437.5,285.6 440.6,279.9 443.6,274.1 446.7,268.3 449.7,262.5 452.7,256.6 455.7,250.8 458.7,244.9 461.7,239.1 464.6,233.2 467.5,227.4 470.4,221.5 473.3,215.6 476.2,209.7 479.0,203.8 481.8,197.9 484.7,191.9 487.5,186.0 490.2,180.1 493.0,174.1 495.8,168.2 498.5,162.2 498.5,162.2 495.8,168.2 493.0,174.1 490.2,180.1 487.5,186.0 484.7,191.9 481.8,197.9 479.0,203.8 476.2,209.7 473.3,215.6 470.4,221.5 467.5,227.4 464.6,233.2 461.7,239.1 458.7,244.9 455.7,250.8 452.7,256.6 449.7,262.5 446.7,268.3 443.6,274.1 440.6,279.9 437.5,285.6 434.3,291.4 431.2,297.2 428.0,302.9 424.9,308.7 421.6,314.4 418.4,320.1 415.1,325.8 411.9,331.4 408.6,337.1 405.2,342.8 401.9,348.4 398.5,354.0 395.1,359.6 391.6,365.2 388.1,370.8 384.6,376.3 381.1,381.8 377.5,387.3 373.9,392.8 370.3,398.3 366.7,403.7 363.0,409.1 359.2,414.5 355.5,419.9 351.7,425.2 347.8,430.6 343.9,435.9 340.0,441.1 336.1,446.3 332.1,451.5 328.0,456.7 323.9,461.8 319.8,466.9 315.6,472.0 311.4,477.0 307.1,482.0 302.8,486.9 298.4,491.8 294.0,496.6 289.5,501.4 285.0,506.2 280.4,510.9 275.7,515.5 271.0,520.0 266.3,524.5 261.4,529.0 256.5,533.3 251.6,537.6 246.5,541.8 241.4,545.9 236.2,550.0 231.0,553.9 225.7,557.7 220.3,561.5 213.8,563.5 208.1,566.7 202.8,570.5 198.0,575.2 192.2,578.4 186.3,581.3 180.4,584.1 174.4,586.8 168.3,589.3 162.2,591.6 156.0,593.7 149.7,595.6 143.4,597.3 137.0,598.8Z" fill="#f9fb0e"/></g>
<g clip-path="url(#bclip)"><rect x="92" y="95" width="870" height="330" fill="url(#sg)" filter="url(#spk)"/></g>
</g>
<rect x="91.5" y="94.7" width="870.5" height="546.5" fill="none" stroke="#6f6f6f" stroke-width="1.4"/>
<path d="M91.70 641.2V624.2M120.71 641.2V632.7M149.73 641.2V632.7M178.74 641.2V632.7M207.76 641.2V632.7M236.77 641.2V624.2M265.78 641.2V632.7M294.80 641.2V632.7M323.81 641.2V632.7M352.83 641.2V632.7M381.84 641.2V624.2M410.85 641.2V632.7M439.87 641.2V632.7M468.88 641.2V632.7M497.90 641.2V632.7M526.91 641.2V624.2M555.92 641.2V632.7M584.94 641.2V632.7M613.95 641.2V632.7M642.97 641.2V632.7M671.98 641.2V624.2M700.99 641.2V632.7M730.01 641.2V632.7M759.02 641.2V632.7M788.04 641.2V632.7M817.05 641.2V624.2M846.06 641.2V632.7M875.08 641.2V632.7M904.09 641.2V632.7M933.11 641.2V632.7M962.12 641.2V624.2M91.5 623.75H104.5M91.5 606.70H117.5M91.5 589.65H104.5M91.5 572.59H104.5M91.5 555.54H104.5M91.5 538.48H117.5M91.5 521.43H104.5M91.5 504.37H104.5M91.5 487.32H104.5M91.5 470.26H117.5M91.5 453.21H104.5M91.5 436.15H104.5M91.5 419.10H104.5M91.5 402.04H117.5M91.5 384.99H104.5M91.5 367.93H104.5M91.5 350.88H104.5M91.5 333.82H117.5M91.5 316.77H104.5M91.5 299.71H104.5M91.5 282.66H104.5M91.5 265.60H117.5M91.5 248.55H104.5M91.5 231.49H104.5M91.5 214.44H104.5M91.5 197.38H117.5M91.5 180.33H104.5M91.5 163.27H104.5M91.5 146.22H104.5M91.5 129.16H117.5M91.5 112.11H104.5" stroke="#6f6f6f" stroke-width="1.3" fill="none"/>
<rect x="967.5" y="94.70" width="49.0" height="546.10" fill="#f9fb0e"/>
<rect x="967.5" y="122.00" width="49.0" height="518.79" fill="#fbe81c"/>
<rect x="967.5" y="149.31" width="49.0" height="491.49" fill="#fdd32a"/>
<rect x="967.5" y="176.62" width="49.0" height="464.18" fill="#f5c63a"/>
<rect x="967.5" y="203.92" width="49.0" height="436.88" fill="#e3c04a"/>
<rect x="967.5" y="231.23" width="49.0" height="409.57" fill="#d1bb59"/>
<rect x="967.5" y="258.53" width="49.0" height="382.27" fill="#b4bd65"/>
<rect x="967.5" y="285.83" width="49.0" height="354.96" fill="#96be71"/>
<rect x="967.5" y="313.14" width="49.0" height="327.66" fill="#74bd80"/>
<rect x="967.5" y="340.44" width="49.0" height="300.35" fill="#52ba91"/>
<rect x="967.5" y="367.75" width="49.0" height="273.05" fill="#2eb7a4"/>
<rect x="967.5" y="395.05" width="49.0" height="245.75" fill="#1eafb3"/>
<rect x="967.5" y="422.36" width="49.0" height="218.44" fill="#0da7c3"/>
<rect x="967.5" y="449.66" width="49.0" height="191.13" fill="#099dcc"/>
<rect x="967.5" y="476.97" width="49.0" height="163.83" fill="#0e8ed1"/>
<rect x="967.5" y="504.27" width="49.0" height="136.52" fill="#1480d6"/>
<rect x="967.5" y="531.58" width="49.0" height="109.22" fill="#1271d9"/>
<rect x="967.5" y="558.88" width="49.0" height="81.91" fill="#1063dc"/>
<rect x="967.5" y="586.19" width="49.0" height="54.61" fill="#1751cb"/>
<rect x="967.5" y="613.50" width="49.0" height="27.30" fill="#273da8"/>
<path d="M1016.5 628.99H1003.5M1016.5 614.58H1003.5M1016.5 602.39H1003.5M1016.5 591.84H1003.5M1016.5 582.53H1003.5M1016.5 574.20H990.5M1016.5 519.41H1003.5M1016.5 487.36H1003.5M1016.5 464.63H1003.5M1016.5 446.99H1003.5M1016.5 432.58H1003.5M1016.5 420.39H1003.5M1016.5 409.84H1003.5M1016.5 400.53H1003.5M1016.5 392.20H990.5M1016.5 337.41H1003.5M1016.5 305.36H1003.5M1016.5 282.63H1003.5M1016.5 264.99H1003.5M1016.5 250.58H1003.5M1016.5 238.39H1003.5M1016.5 227.84H1003.5M1016.5 218.53H1003.5M1016.5 210.20H990.5M1016.5 155.41H1003.5M1016.5 123.36H1003.5M1016.5 100.63H1003.5" stroke="#000" stroke-opacity="0.7" stroke-width="1.3" fill="none"/>
<path d="M1016.5 94.7V640.8" stroke="#444" stroke-width="1.2"/>
<text transform="translate(26.05 360.00) rotate(-90) scale(1.0800 1)" font-size="34.04" font-weight="normal" fill="#000">Y deviation [mm]</text>
<text transform="translate(697.19 722.16) scale(1.0419 1)" font-size="35.43" font-weight="normal" fill="#000">X deviation [mm]</text>
<text transform="translate(109.33 157.35) scale(0.9128 1)" font-size="44.93" font-weight="bold" fill="#0000ff">EJ-262 0.1 mm</text>
<text transform="translate(239.05 215.28) scale(0.9797 1)" font-size="44.71" font-weight="bold" fill="#0000ff">+</text>
<text transform="translate(207.42 271.06) scale(0.8674 1)" font-size="44.14" font-weight="bold" fill="#0000ff">Lens</text>
<text transform="translate(392.23 223.74) scale(0.9728 1)" font-size="36.29" font-weight="bold" fill="#000">He</text>
<text transform="translate(437.50 211.40) scale(0.9712 1)" font-size="24.06" font-weight="bold" fill="#000">1+</text>
<text transform="translate(556.56 223.74) scale(0.9610 1)" font-size="36.29" font-weight="bold" fill="#000">He</text>
<text transform="translate(602.10 211.40) scale(1.0034 1)" font-size="23.29" font-weight="bold" fill="#000">2+</text>
<text transform="translate(800.52 223.91) scale(1.0057 1)" font-size="35.20" font-weight="bold" fill="#000">p</text>
<text transform="translate(821.53 212.79) scale(0.9718 1)" font-size="24.90" font-weight="bold" fill="#000">+</text>
<text transform="translate(869.04 25.00) scale(1.0268 1)" font-size="34.78" font-weight="normal" fill="#000">N</text>
<text transform="translate(894.56 33.65) scale(1.0332 1)" font-size="24.04" font-weight="normal" fill="#000">photons</text>
<text transform="translate(808.78 70.77) scale(1.0858 1)" font-size="34.89" font-weight="normal" fill="#000">detected/pixel</text>
<text transform="translate(1032.17 213.50) scale(0.9226 1)" font-size="36.67" font-weight="bold" fill="#000">1</text>
<text transform="translate(1031.53 398.54) scale(0.9972 1)" font-size="36.34" font-weight="bold" fill="#000">10</text>
<text transform="translate(1071.05 386.50) scale(0.9894 1)" font-size="23.91" font-weight="bold" fill="#000">-1</text>
<text transform="translate(1031.35 585.94) scale(0.9902 1)" font-size="36.20" font-weight="bold" fill="#000">10</text>
<text transform="translate(1071.22 573.50) scale(1.0628 1)" font-size="23.00" font-weight="bold" fill="#000">-2</text>
<text transform="translate(-1.54 729.80) scale(0.7536 1)" font-size="33.91" font-weight="normal" fill="#f00">E</text>
<text transform="translate(15.97 738.31) scale(1.0569 1)" font-size="24.71" font-weight="normal" fill="#f00">proton</text>
<text transform="translate(98.97 728.83) scale(1.0714 1)" font-size="35.11" font-weight="normal" fill="#f00">[MeV]</text>
<text transform="translate(217.08 788.24) scale(0.9918 1)" font-size="35.77" font-weight="normal" fill="#f00">34</text>
<text transform="translate(356.65 788.24) scale(1.0114 1)" font-size="35.77" font-weight="normal" fill="#f00">8.5</text>
<text transform="translate(505.66 788.24) scale(1.0029 1)" font-size="35.77" font-weight="normal" fill="#f00">3.8</text>
<text transform="translate(652.22 788.60) scale(0.9827 1)" font-size="36.29" font-weight="normal" fill="#f00">2.1</text>
<text transform="translate(796.53 788.60) scale(0.9741 1)" font-size="36.81" font-weight="normal" fill="#f00">1.4</text>
<text transform="translate(944.35 788.94) scale(1.0157 1)" font-size="35.77" font-weight="normal" fill="#f00">0.8</text>
<text transform="translate(86.3 618.00) scale(0.945 1)" font-size="32.7" text-anchor="end">0</text>
<text transform="translate(86.3 549.78) scale(0.945 1)" font-size="32.7" text-anchor="end">2</text>
<text transform="translate(86.3 481.56) scale(0.945 1)" font-size="32.7" text-anchor="end">4</text>
<text transform="translate(86.3 413.34) scale(0.945 1)" font-size="32.7" text-anchor="end">6</text>
<text transform="translate(86.3 345.12) scale(0.945 1)" font-size="32.7" text-anchor="end">8</text>
<text transform="translate(86.3 276.90) scale(0.945 1)" font-size="32.7" text-anchor="end">10</text>
<text transform="translate(86.3 208.68) scale(0.945 1)" font-size="32.7" text-anchor="end">12</text>
<text transform="translate(86.3 140.46) scale(0.945 1)" font-size="32.7" text-anchor="end">14</text>
<text transform="translate(91.70 671.9) scale(0.962 1)" font-size="32.6" text-anchor="middle">0</text>
<text transform="translate(236.77 671.9) scale(0.962 1)" font-size="32.6" text-anchor="middle">10</text>
<text transform="translate(381.84 671.9) scale(0.962 1)" font-size="32.6" text-anchor="middle">20</text>
<text transform="translate(526.91 671.9) scale(0.962 1)" font-size="32.6" text-anchor="middle">30</text>
<text transform="translate(671.98 671.9) scale(0.962 1)" font-size="32.6" text-anchor="middle">40</text>
<text transform="translate(817.05 671.9) scale(0.962 1)" font-size="32.6" text-anchor="middle">50</text>
<text transform="translate(962.12 671.9) scale(0.962 1)" font-size="32.6" text-anchor="middle">60</text>
<path d="M981 745.8 L95 747.2" stroke="#ff0000" stroke-width="4.4"/>
<path d="M83.3 747.2 L96.5 740.6 L96.5 753.8Z" fill="#ff0000"/>
</svg>
</body></html>
